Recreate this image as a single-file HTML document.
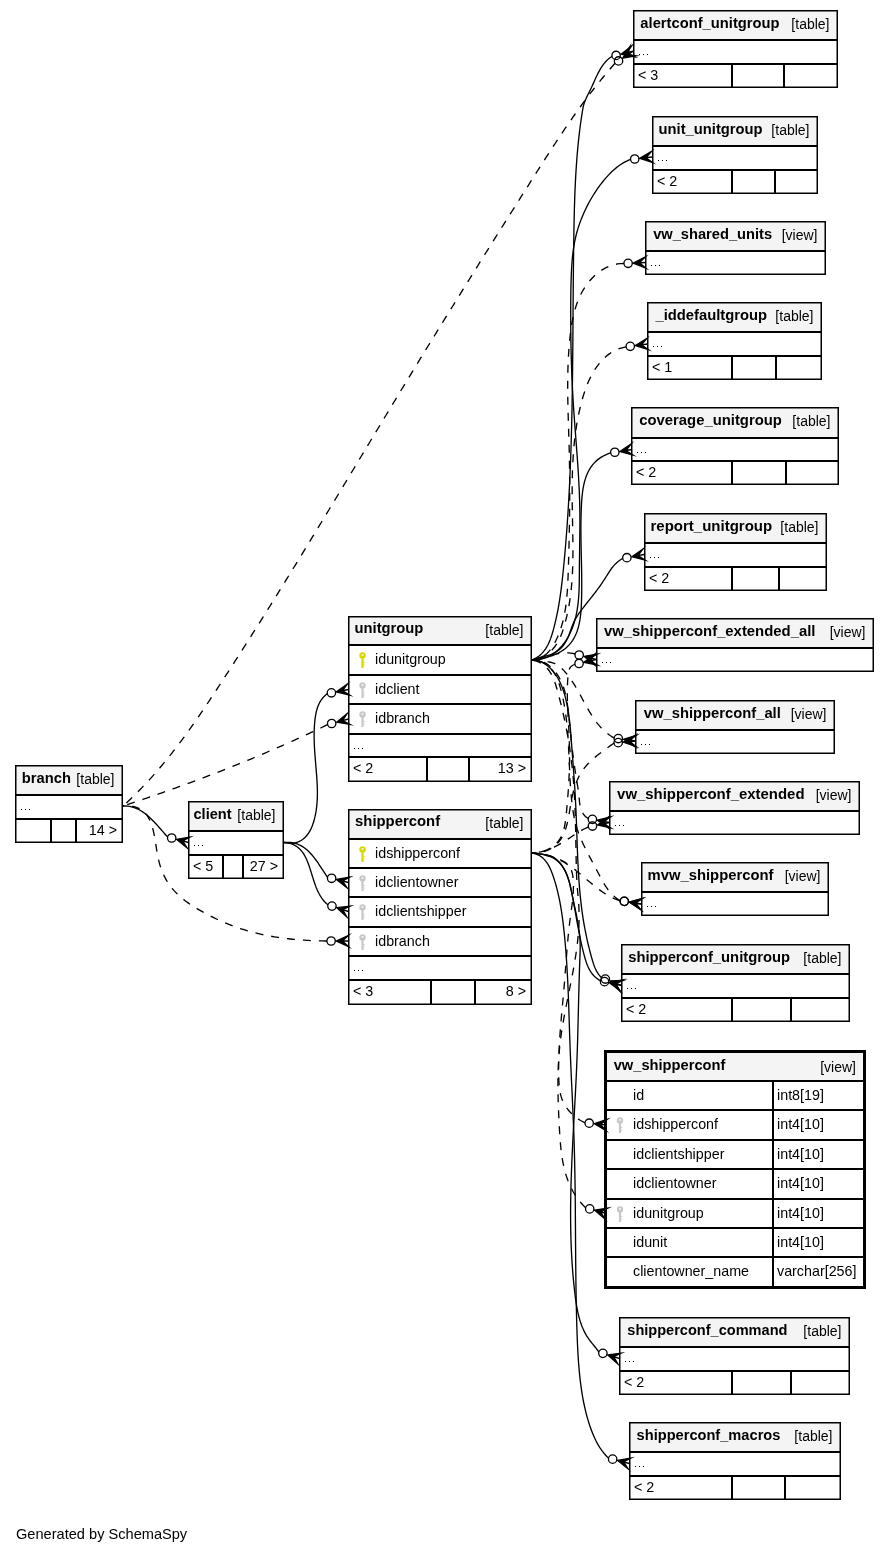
<!DOCTYPE html><html><head><meta charset="utf-8"><style>html,body{margin:0;padding:0;background:#fff;width:889px;height:1555px;overflow:hidden}svg{will-change:transform}text{font-family:"Liberation Sans",sans-serif}</style></head><body><svg width="889" height="1555" viewBox="0 0 889 1555" style="position:absolute;left:0;top:0" font-family='"Liberation Sans", sans-serif'>
<rect width="889" height="1555" fill="#fff"/>
<g fill="none" stroke="#000" stroke-width="1.33" stroke-linecap="butt">
<path d="M615.05,63.27 L613.72,64.77 L612.39,66.27 L611.08,67.79 L609.76,69.30 L608.46,70.83 L607.16,72.35 L605.87,73.89 L604.59,75.43 L603.31,76.97 L602.03,78.52 L600.77,80.07 L599.51,81.63 L598.25,83.19 L597.00,84.75 L595.76,86.32 L594.52,87.90 L593.29,89.48 L592.07,91.06 L590.84,92.65 L589.63,94.24 L588.42,95.84 L587.21,97.43 L586.01,99.04 L584.82,100.64 L583.63,102.26 L582.44,103.87 L581.26,105.49 L580.08,107.11 L578.91,108.73 L577.74,110.36 L576.58,111.99 L575.42,113.63 L574.26,115.26 L573.11,116.90 L571.96,118.55 L570.81,120.19 L569.67,121.84 L568.54,123.49 L567.40,125.15 L566.27,126.80 L565.14,128.46 L564.02,130.12 L562.90,131.79 L561.78,133.45 L560.66,135.12 L559.55,136.79 L558.44,138.46 L557.33,140.14 L556.23,141.81 L555.13,143.49 L554.03,145.17 L552.93,146.85 L551.83,148.53 L550.74,150.22 L549.64,151.90 L548.55,153.59 L547.47,155.28 L546.38,156.96 L545.29,158.65 L544.21,160.34 L543.13,162.04 L542.04,163.73 L540.96,165.42 L539.89,167.12 L538.81,168.81 L537.73,170.51 L536.65,172.20 L535.58,173.90 L534.50,175.59 L533.43,177.29 L532.35,178.99 L531.28,180.68 L530.20,182.38 L529.13,184.08 L528.05,185.78 L526.98,187.47 L525.91,189.17 L524.83,190.87 L523.76,192.56 L522.69,194.26 L521.62,195.96 L520.54,197.66 L519.47,199.35 L518.40,201.05 L517.33,202.75 L516.26,204.45 L515.19,206.14 L514.12,207.84 L513.04,209.54 L511.97,211.24 L510.90,212.93 L509.83,214.63 L508.77,216.33 L507.70,218.03 L506.63,219.73 L505.56,221.43 L504.49,223.12 L503.42,224.82 L502.35,226.52 L501.29,228.22 L500.22,229.92 L499.15,231.62 L498.08,233.32 L497.02,235.01 L495.95,236.71 L494.88,238.41 L493.82,240.11 L492.75,241.81 L491.69,243.51 L490.62,245.21 L489.56,246.91 L488.49,248.61 L487.43,250.31 L486.36,252.01 L485.30,253.71 L484.24,255.41 L483.17,257.11 L482.11,258.81 L481.05,260.51 L479.98,262.21 L478.92,263.91 L477.86,265.62 L476.80,267.32 L475.73,269.02 L474.67,270.72 L473.61,272.42 L472.55,274.12 L471.49,275.82 L470.43,277.53 L469.37,279.23 L468.31,280.93 L467.25,282.63 L466.19,284.34 L465.13,286.04 L464.08,287.74 L463.02,289.44 L461.96,291.15 L460.90,292.85 L459.84,294.55 L458.79,296.26 L457.73,297.96 L456.67,299.66 L455.62,301.37 L454.56,303.07 L453.51,304.78 L452.45,306.48 L451.39,308.19 L450.34,309.89 L449.29,311.60 L448.23,313.30 L447.18,315.01 L446.12,316.71 L445.07,318.42 L444.02,320.12 L442.96,321.83 L441.91,323.54 L440.86,325.24 L439.81,326.95 L438.76,328.66 L437.70,330.36 L436.65,332.07 L435.60,333.78 L434.55,335.49 L433.50,337.19 L432.45,338.90 L431.40,340.61 L430.35,342.32 L429.30,344.03 L428.25,345.73 L427.21,347.44 L426.16,349.15 L425.11,350.86 L424.06,352.57 L423.02,354.28 L421.97,355.99 L420.92,357.70 L419.88,359.41 L418.83,361.12 L417.78,362.83 L416.74,364.55 L415.69,366.26 L414.65,367.97 L413.60,369.68 L412.56,371.39 L411.52,373.10 L410.47,374.82 L409.43,376.53 L408.39,378.24 L407.35,379.96 L406.30,381.67 L405.26,383.38 L404.22,385.10 L403.18,386.81 L402.14,388.52 L401.10,390.24 L400.06,391.95 L399.02,393.67 L397.98,395.38 L396.94,397.10 L395.90,398.82 L394.86,400.53 L393.82,402.25 L392.78,403.96 L391.74,405.68 L390.71,407.40 L389.67,409.11 L388.63,410.83 L387.59,412.55 L386.56,414.26 L385.52,415.98 L384.48,417.70 L383.45,419.42 L382.41,421.13 L381.37,422.85 L380.34,424.57 L379.30,426.29 L378.26,428.01 L377.23,429.72 L376.19,431.44 L375.16,433.16 L374.12,434.88 L373.09,436.60 L372.05,438.32 L371.02,440.03 L369.98,441.75 L368.95,443.47 L367.91,445.19 L366.88,446.91 L365.84,448.63 L364.81,450.35 L363.77,452.07 L362.74,453.79 L361.70,455.50 L360.67,457.22 L359.63,458.94 L358.60,460.66 L357.56,462.38 L356.53,464.10 L355.49,465.82 L354.46,467.54 L353.42,469.26 L352.39,470.98 L351.35,472.69 L350.32,474.41 L349.28,476.13 L348.25,477.85 L347.21,479.57 L346.17,481.29 L345.14,483.01 L344.10,484.72 L343.07,486.44 L342.03,488.16 L341.00,489.88 L339.96,491.60 L338.92,493.32 L337.89,495.03 L336.85,496.75 L335.81,498.47 L334.77,500.19 L333.74,501.90 L332.70,503.62 L331.66,505.34 L330.62,507.05 L329.59,508.77 L328.55,510.49 L327.51,512.20 L326.47,513.92 L325.43,515.64 L324.39,517.35 L323.35,519.07 L322.31,520.78 L321.27,522.50 L320.23,524.21 L319.19,525.93 L318.15,527.64 L317.11,529.36 L316.07,531.07 L315.02,532.78 L313.98,534.50 L312.94,536.21 L311.90,537.93 L310.85,539.64 L309.81,541.35 L308.76,543.06 L307.72,544.78 L306.68,546.49 L305.63,548.20 L304.58,549.91 L303.54,551.62 L302.49,553.33 L301.45,555.04 L300.40,556.76 L299.35,558.47 L298.30,560.18 L297.25,561.89 L296.21,563.59 L295.16,565.30 L294.11,567.01 L293.06,568.72 L292.01,570.43 L290.95,572.14 L289.90,573.85 L288.85,575.55 L287.80,577.26 L286.75,578.97 L285.69,580.67 L284.64,582.38 L283.58,584.09 L282.53,585.79 L281.47,587.50 L280.42,589.20 L279.36,590.91 L278.30,592.61 L277.25,594.31 L276.19,596.02 L275.13,597.72 L274.07,599.42 L273.01,601.13 L271.95,602.83 L270.89,604.53 L269.83,606.23 L268.76,607.93 L267.70,609.63 L266.64,611.33 L265.57,613.03 L264.51,614.73 L263.44,616.43 L262.38,618.13 L261.31,619.83 L260.25,621.53 L259.18,623.23 L258.11,624.92 L257.04,626.62 L255.97,628.32 L254.90,630.01 L253.83,631.71 L252.76,633.40 L251.68,635.10 L250.61,636.79 L249.54,638.49 L248.46,640.18 L247.39,641.88 L246.31,643.57 L245.23,645.26 L244.16,646.95 L243.08,648.64 L242.00,650.34 L240.92,652.03 L239.84,653.72 L238.76,655.41 L237.68,657.10 L236.59,658.78 L235.51,660.47 L234.43,662.16 L233.34,663.85 L232.25,665.53 L231.17,667.22 L230.08,668.91 L228.99,670.59 L227.90,672.28 L226.81,673.96 L225.72,675.65 L224.63,677.33 L223.54,679.01 L222.44,680.70 L221.35,682.38 L220.25,684.06 L219.16,685.74 L218.06,687.42 L216.96,689.10 L215.86,690.78 L214.76,692.46 L213.66,694.13 L212.55,695.81 L211.45,697.48 L210.34,699.16 L209.23,700.83 L208.12,702.50 L207.00,704.17 L205.89,705.84 L204.77,707.50 L203.65,709.17 L202.52,710.83 L201.39,712.49 L200.26,714.14 L199.13,715.80 L197.99,717.45 L196.85,719.10 L195.71,720.75 L194.56,722.40 L193.41,724.04 L192.25,725.68 L191.10,727.32 L189.93,728.95 L188.76,730.58 L187.59,732.21 L186.42,733.83 L185.24,735.46 L184.05,737.07 L182.86,738.69 L181.67,740.30 L180.47,741.91 L179.26,743.51 L178.05,745.11 L176.84,746.70 L175.62,748.29 L174.39,749.88 L173.16,751.46 L171.92,753.04 L170.68,754.61 L169.43,756.18 L168.18,757.75 L166.92,759.31 L165.66,760.86 L164.38,762.41 L163.11,763.95 L161.82,765.49 L160.53,767.02 L159.24,768.55 L157.93,770.07 L156.62,771.59 L155.31,773.10 L153.98,774.60 L152.65,776.10 L151.32,777.59 L149.97,779.08 L148.62,780.56 L147.27,782.03 L145.90,783.50 L144.53,784.96 L143.15,786.41 L141.76,787.86 L140.37,789.30 L138.96,790.73 L137.55,792.16 L136.13,793.58 L134.71,794.99 L133.27,796.39 L131.83,797.79 L130.38,799.18 L128.92,800.56 L127.45,801.93 L125.98,803.29 L124.49,804.65 L123.00,806.00" stroke-dasharray="8,8"/>
<path d="M327.64,724.59 L325.82,725.47 L323.99,726.35 L322.17,727.23 L320.35,728.10 L318.52,728.97 L316.69,729.84 L314.87,730.71 L313.04,731.57 L311.21,732.43 L309.37,733.29 L307.54,734.14 L305.71,734.99 L303.87,735.84 L302.03,736.68 L300.19,737.53 L298.36,738.37 L296.52,739.21 L294.67,740.04 L292.83,740.87 L290.99,741.70 L289.14,742.53 L287.30,743.35 L285.45,744.17 L283.60,744.99 L281.75,745.81 L279.90,746.62 L278.05,747.43 L276.19,748.24 L274.34,749.05 L272.48,749.85 L270.63,750.65 L268.77,751.45 L266.91,752.25 L265.05,753.04 L263.19,753.83 L261.33,754.62 L259.47,755.40 L257.60,756.18 L255.74,756.97 L253.87,757.74 L252.00,758.52 L250.14,759.29 L248.27,760.06 L246.40,760.83 L244.53,761.60 L242.65,762.36 L240.78,763.12 L238.91,763.88 L237.03,764.63 L235.15,765.39 L233.28,766.14 L231.40,766.89 L229.52,767.63 L227.64,768.38 L225.76,769.12 L223.88,769.86 L222.00,770.60 L220.11,771.33 L218.23,772.06 L216.34,772.79 L214.46,773.52 L212.57,774.25 L210.68,774.97 L208.79,775.69 L206.90,776.41 L205.01,777.13 L203.12,777.84 L201.23,778.56 L199.34,779.27 L197.44,779.98 L195.55,780.68 L193.65,781.38 L191.75,782.09 L189.86,782.79 L187.96,783.48 L186.06,784.18 L184.16,784.87 L182.26,785.56 L180.36,786.25 L178.46,786.94 L176.55,787.62 L174.65,788.31 L172.75,788.99 L170.84,789.67 L168.94,790.34 L167.03,791.02 L165.12,791.69 L163.22,792.36 L161.31,793.03 L159.40,793.70 L157.49,794.36 L155.58,795.02 L153.67,795.68 L151.75,796.34 L149.84,797.00 L147.93,797.65 L146.01,798.31 L144.10,798.96 L142.18,799.61 L140.27,800.26 L138.35,800.90 L136.44,801.54 L134.52,802.19 L132.60,802.83 L130.68,803.47 L128.76,804.10 L126.84,804.74 L124.92,805.37 L123.00,806.00" stroke-dasharray="8,8"/>
<path d="M123.00,806.00 L125.24,805.99 L127.41,806.13 L129.51,806.41 L131.56,806.84 L133.54,807.39 L135.47,808.07 L137.34,808.87 L139.16,809.77 L140.93,810.77 L142.66,811.86 L144.34,813.04 L145.99,814.29 L147.59,815.61 L149.17,816.99 L150.70,818.43 L152.21,819.91 L153.70,821.42 L155.15,822.97 L156.59,824.54 L158.01,826.12 L159.41,827.70 L160.80,829.29 L162.18,830.86 L163.55,832.42 L164.91,833.95 L166.27,835.45 L167.64,836.91"/>
<path d="M326.90,941.00 L324.88,940.98 L322.85,940.94 L320.83,940.90 L318.80,940.85 L316.78,940.79 L314.75,940.72 L312.72,940.64 L310.70,940.55 L308.67,940.45 L306.64,940.33 L304.61,940.21 L302.59,940.08 L300.56,939.93 L298.53,939.77 L296.51,939.60 L294.49,939.41 L292.47,939.22 L290.44,939.01 L288.43,938.78 L286.41,938.55 L284.40,938.30 L282.38,938.03 L280.37,937.75 L278.37,937.46 L276.36,937.15 L274.36,936.83 L272.36,936.49 L270.37,936.13 L268.38,935.76 L266.39,935.38 L264.41,934.97 L262.43,934.55 L260.45,934.12 L258.48,933.66 L256.52,933.19 L254.56,932.70 L252.60,932.19 L250.65,931.67 L248.71,931.13 L246.77,930.56 L244.83,929.98 L242.91,929.38 L240.98,928.76 L239.07,928.12 L237.16,927.46 L235.25,926.79 L233.36,926.09 L231.46,925.38 L229.57,924.64 L227.69,923.89 L225.81,923.12 L223.94,922.33 L222.07,921.53 L220.21,920.70 L218.35,919.86 L216.50,918.99 L214.65,918.11 L212.81,917.22 L210.97,916.30 L209.13,915.37 L207.30,914.41 L205.48,913.44 L203.65,912.46 L201.84,911.45 L200.03,910.43 L198.23,909.38 L196.44,908.32 L194.67,907.23 L192.91,906.12 L191.18,904.99 L189.46,903.83 L187.78,902.64 L186.11,901.43 L184.48,900.19 L182.88,898.92 L181.31,897.62 L179.78,896.29 L178.29,894.93 L176.84,893.54 L175.44,892.11 L174.08,890.65 L172.77,889.15 L171.51,887.61 L170.31,886.04 L169.15,884.43 L168.05,882.78 L167.00,881.11 L166.00,879.39 L165.05,877.65 L164.15,875.87 L163.30,874.06 L162.50,872.22 L161.75,870.35 L161.05,868.46 L160.40,866.53 L159.80,864.58 L159.24,862.60 L158.73,860.60 L158.27,858.57 L157.85,856.53 L157.45,854.47 L157.08,852.39 L156.74,850.31 L156.41,848.23 L156.08,846.14 L155.76,844.05 L155.43,841.97 L155.10,839.90 L154.75,837.84 L154.38,835.80 L153.97,833.77 L153.54,831.77 L153.07,829.80 L152.55,827.86 L151.98,825.95 L151.35,824.09 L150.66,822.27 L149.89,820.51 L149.05,818.82 L148.13,817.20 L147.12,815.65 L146.01,814.20 L144.80,812.83 L143.48,811.56 L142.05,810.41 L140.50,809.36 L138.82,808.44 L137.01,807.65 L135.06,806.99 L132.96,806.48 L130.72,806.11 L128.31,805.91 L125.74,805.87 L123.00,806.00" stroke-dasharray="8,8"/>
<path d="M284.00,842.50 L286.59,842.96 L289.05,843.20 L291.36,843.23 L293.55,843.05 L295.61,842.68 L297.54,842.13 L299.35,841.40 L301.05,840.52 L302.64,839.48 L304.12,838.30 L305.49,836.99 L306.77,835.56 L307.95,834.03 L309.04,832.39 L310.04,830.66 L310.95,828.86 L311.79,826.99 L312.56,825.06 L313.25,823.08 L313.87,821.06 L314.43,819.02 L314.94,816.96 L315.38,814.90 L315.78,812.84 L316.13,810.77 L316.43,808.71 L316.68,806.65 L316.89,804.58 L317.06,802.52 L317.20,800.46 L317.29,798.39 L317.36,796.33 L317.39,794.27 L317.39,792.20 L317.37,790.14 L317.32,788.08 L317.25,786.02 L317.16,783.96 L317.05,781.89 L316.93,779.83 L316.79,777.77 L316.64,775.71 L316.49,773.65 L316.33,771.59 L316.16,769.53 L315.99,767.48 L315.82,765.42 L315.64,763.36 L315.47,761.30 L315.30,759.25 L315.14,757.19 L314.98,755.14 L314.83,753.08 L314.70,751.03 L314.57,748.98 L314.45,746.93 L314.35,744.88 L314.27,742.83 L314.20,740.78 L314.16,738.74 L314.13,736.69 L314.13,734.65 L314.15,732.61 L314.20,730.56 L314.28,728.52 L314.39,726.49 L314.52,724.45 L314.69,722.41 L314.90,720.38 L315.14,718.35 L315.43,716.33 L315.77,714.32 L316.18,712.34 L316.66,710.38 L317.21,708.46 L317.86,706.57 L318.61,704.73 L319.46,702.94 L320.43,701.21 L321.52,699.54 L322.74,697.94 L324.11,696.42 L325.62,694.98 L327.30,693.62"/>
<path d="M284.00,842.50 L286.42,842.33 L288.74,842.34 L290.97,842.52 L293.11,842.86 L295.16,843.35 L297.13,843.99 L299.02,844.76 L300.83,845.65 L302.58,846.67 L304.25,847.79 L305.87,849.02 L307.42,850.34 L308.92,851.74 L310.37,853.23 L311.77,854.77 L313.13,856.38 L314.45,858.04 L315.74,859.75 L316.99,861.48 L318.22,863.24 L319.42,865.03 L320.61,866.81 L321.78,868.60 L322.94,870.39 L324.09,872.15 L325.24,873.90 L326.39,875.61 L327.54,877.27"/>
<path d="M284.00,842.50 L286.46,842.73 L288.75,843.13 L290.89,843.70 L292.87,844.42 L294.71,845.30 L296.41,846.31 L297.99,847.46 L299.45,848.74 L300.80,850.13 L302.04,851.63 L303.20,853.22 L304.26,854.91 L305.25,856.69 L306.17,858.54 L307.03,860.45 L307.84,862.42 L308.60,864.45 L309.32,866.51 L310.02,868.61 L310.69,870.73 L311.35,872.87 L312.01,875.02 L312.68,877.17 L313.35,879.31 L314.04,881.44 L314.76,883.54 L315.52,885.62 L316.31,887.66 L317.15,889.66 L318.04,891.62 L319.00,893.52 L320.02,895.37 L321.12,897.15 L322.29,898.85 L323.56,900.48 L324.92,902.02 L326.38,903.47 L327.96,904.83"/>
<path d="M532.00,660.00 L533.96,659.16 L535.79,658.20 L537.50,657.14 L539.09,655.97 L540.58,654.71 L541.97,653.36 L543.26,651.92 L544.45,650.41 L545.57,648.82 L546.60,647.17 L547.56,645.46 L548.44,643.69 L549.27,641.88 L550.04,640.02 L550.75,638.13 L551.42,636.21 L552.05,634.27 L552.64,632.30 L553.20,630.33 L553.74,628.35 L554.26,626.37 L554.76,624.39 L555.25,622.41 L555.71,620.42 L556.16,618.44 L556.59,616.46 L557.00,614.47 L557.40,612.49 L557.79,610.50 L558.16,608.52 L558.52,606.53 L558.86,604.55 L559.19,602.56 L559.51,600.57 L559.82,598.58 L560.12,596.60 L560.40,594.61 L560.68,592.62 L560.95,590.63 L561.21,588.64 L561.46,586.65 L561.70,584.66 L561.94,582.67 L562.17,580.67 L562.39,578.68 L562.61,576.69 L562.82,574.70 L563.03,572.71 L563.23,570.71 L563.44,568.72 L563.63,566.73 L563.83,564.73 L564.02,562.74 L564.21,560.75 L564.40,558.75 L564.58,556.76 L564.77,554.76 L564.94,552.77 L565.12,550.77 L565.29,548.78 L565.46,546.78 L565.63,544.78 L565.80,542.79 L565.96,540.79 L566.12,538.80 L566.28,536.80 L566.43,534.80 L566.58,532.81 L566.73,530.81 L566.88,528.81 L567.03,526.81 L567.17,524.82 L567.31,522.82 L567.44,520.82 L567.58,518.82 L567.71,516.82 L567.84,514.82 L567.97,512.82 L568.10,510.83 L568.22,508.83 L568.34,506.83 L568.46,504.83 L568.58,502.83 L568.69,500.83 L568.80,498.83 L568.91,496.83 L569.02,494.83 L569.13,492.83 L569.23,490.82 L569.33,488.82 L569.43,486.82 L569.53,484.82 L569.63,482.82 L569.72,480.82 L569.81,478.82 L569.90,476.81 L569.99,474.81 L570.08,472.81 L570.16,470.81 L570.25,468.80 L570.33,466.80 L570.41,464.80 L570.48,462.79 L570.56,460.79 L570.63,458.79 L570.71,456.78 L570.78,454.78 L570.85,452.78 L570.91,450.77 L570.98,448.77 L571.04,446.77 L571.11,444.76 L571.17,442.76 L571.23,440.75 L571.29,438.75 L571.34,436.74 L571.40,434.74 L571.45,432.73 L571.51,430.73 L571.56,428.72 L571.61,426.72 L571.66,424.71 L571.71,422.71 L571.75,420.70 L571.80,418.70 L571.84,416.69 L571.88,414.68 L571.93,412.68 L571.97,410.67 L572.01,408.67 L572.04,406.66 L572.08,404.65 L572.12,402.65 L572.15,400.64 L572.19,398.63 L572.22,396.63 L572.25,394.62 L572.28,392.61 L572.32,390.61 L572.35,388.60 L572.37,386.59 L572.40,384.59 L572.43,382.58 L572.46,380.57 L572.48,378.56 L572.51,376.56 L572.53,374.55 L572.55,372.54 L572.58,370.53 L572.60,368.53 L572.62,366.52 L572.64,364.51 L572.66,362.50 L572.68,360.50 L572.70,358.49 L572.72,356.48 L572.74,354.47 L572.76,352.46 L572.78,350.46 L572.79,348.45 L572.81,346.44 L572.83,344.43 L572.84,342.42 L572.86,340.42 L572.87,338.41 L572.89,336.40 L572.90,334.39 L572.92,332.38 L572.93,330.38 L572.95,328.37 L572.96,326.36 L572.98,324.35 L572.99,322.34 L573.00,320.33 L573.02,318.33 L573.03,316.32 L573.05,314.31 L573.06,312.30 L573.07,310.29 L573.09,308.28 L573.10,306.28 L573.12,304.27 L573.13,302.26 L573.14,300.25 L573.16,298.24 L573.17,296.23 L573.19,294.23 L573.20,292.22 L573.22,290.21 L573.24,288.20 L573.25,286.19 L573.27,284.18 L573.29,282.18 L573.30,280.17 L573.32,278.16 L573.34,276.15 L573.36,274.14 L573.38,272.14 L573.40,270.13 L573.42,268.12 L573.44,266.11 L573.46,264.10 L573.48,262.10 L573.50,260.09 L573.52,258.08 L573.55,256.07 L573.57,254.07 L573.60,252.06 L573.62,250.05 L573.65,248.04 L573.68,246.04 L573.71,244.03 L573.74,242.02 L573.77,240.01 L573.80,238.01 L573.83,236.00 L573.86,233.99 L573.89,231.99 L573.93,229.98 L573.97,227.97 L574.00,225.96 L574.04,223.96 L574.08,221.95 L574.12,219.95 L574.17,217.94 L574.21,215.93 L574.26,213.93 L574.31,211.92 L574.36,209.92 L574.42,207.91 L574.48,205.91 L574.54,203.90 L574.60,201.90 L574.67,199.89 L574.73,197.89 L574.81,195.88 L574.88,193.88 L574.96,191.88 L575.04,189.87 L575.13,187.87 L575.22,185.87 L575.31,183.87 L575.41,181.86 L575.51,179.86 L575.62,177.86 L575.73,175.86 L575.84,173.86 L575.96,171.86 L576.08,169.86 L576.21,167.86 L576.35,165.86 L576.49,163.86 L576.63,161.87 L576.78,159.87 L576.93,157.87 L577.09,155.87 L577.26,153.88 L577.43,151.88 L577.61,149.89 L577.80,147.89 L577.99,145.90 L578.18,143.90 L578.38,141.91 L578.59,139.92 L578.81,137.92 L579.03,135.93 L579.26,133.94 L579.50,131.95 L579.74,129.96 L580.00,127.97 L580.25,125.98 L580.52,123.99 L580.79,122.01 L581.08,120.02 L581.37,118.03 L581.66,116.05 L581.97,114.06 L582.28,112.08 L582.61,110.10 L582.96,108.12 L583.38,106.17 L583.88,104.24 L584.50,102.35 L585.21,100.49 L586.00,98.66 L586.84,96.84 L587.73,95.03 L588.64,93.23 L589.55,91.42 L590.44,89.61 L591.31,87.78 L592.15,85.94 L592.99,84.10 L593.82,82.26 L594.65,80.42 L595.48,78.58 L596.33,76.76 L597.21,74.95 L598.10,73.16 L599.04,71.39 L600.01,69.65 L601.03,67.93 L602.10,66.25 L603.24,64.62 L604.46,63.05 L605.76,61.55 L607.16,60.12 L608.66,58.79 L610.28,57.56 L612.03,56.44"/>
<path d="M532.00,660.00 L534.15,660.00 L536.26,659.88 L538.33,659.63 L540.35,659.26 L542.32,658.79 L544.25,658.20 L546.12,657.51 L547.95,656.71 L549.72,655.83 L551.44,654.85 L553.11,653.78 L554.72,652.63 L556.28,651.41 L557.78,650.11 L559.22,648.75 L560.60,647.31 L561.93,645.82 L563.20,644.28 L564.41,642.68 L565.57,641.04 L566.66,639.36 L567.71,637.63 L568.69,635.88 L569.62,634.10 L570.49,632.29 L571.31,630.45 L572.08,628.59 L572.80,626.71 L573.47,624.80 L574.09,622.88 L574.67,620.94 L575.20,618.99 L575.70,617.02 L576.15,615.04 L576.56,613.05 L576.94,611.05 L577.28,609.05 L577.59,607.03 L577.86,605.02 L578.11,603.00 L578.32,600.98 L578.51,598.96 L578.67,596.95 L578.81,594.93 L578.93,592.92 L579.03,590.91 L579.11,588.91 L579.17,586.90 L579.23,584.90 L579.27,582.89 L579.30,580.89 L579.32,578.89 L579.33,576.88 L579.35,574.88 L579.36,572.88 L579.37,570.88 L579.38,568.87 L579.40,566.87 L579.42,564.86 L579.44,562.86 L579.47,560.85 L579.49,558.85 L579.52,556.84 L579.55,554.83 L579.58,552.82 L579.61,550.81 L579.64,548.80 L579.67,546.79 L579.69,544.79 L579.72,542.77 L579.75,540.76 L579.78,538.75 L579.80,536.74 L579.82,534.73 L579.84,532.72 L579.86,530.71 L579.88,528.70 L579.89,526.69 L579.90,524.67 L579.90,522.66 L579.90,520.65 L579.90,518.64 L579.89,516.63 L579.87,514.62 L579.85,512.60 L579.83,510.59 L579.80,508.58 L579.76,506.57 L579.71,504.56 L579.66,502.55 L579.61,500.54 L579.54,498.53 L579.48,496.52 L579.40,494.51 L579.32,492.50 L579.24,490.49 L579.15,488.49 L579.05,486.48 L578.95,484.47 L578.85,482.46 L578.74,480.45 L578.63,478.44 L578.52,476.44 L578.40,474.43 L578.27,472.42 L578.15,470.41 L578.02,468.41 L577.88,466.40 L577.75,464.39 L577.61,462.39 L577.47,460.38 L577.33,458.37 L577.19,456.37 L577.04,454.36 L576.89,452.35 L576.74,450.35 L576.59,448.34 L576.44,446.34 L576.29,444.33 L576.14,442.32 L575.98,440.32 L575.83,438.31 L575.67,436.30 L575.52,434.30 L575.37,432.29 L575.21,430.29 L575.06,428.28 L574.91,426.27 L574.76,424.27 L574.61,422.26 L574.46,420.25 L574.32,418.25 L574.17,416.24 L574.03,414.24 L573.89,412.23 L573.75,410.22 L573.62,408.21 L573.48,406.21 L573.36,404.20 L573.23,402.19 L573.11,400.19 L572.99,398.18 L572.87,396.17 L572.76,394.16 L572.65,392.16 L572.54,390.15 L572.44,388.14 L572.34,386.13 L572.24,384.12 L572.15,382.11 L572.06,380.11 L571.97,378.10 L571.89,376.09 L571.81,374.08 L571.73,372.07 L571.66,370.06 L571.59,368.05 L571.52,366.04 L571.46,364.03 L571.39,362.02 L571.34,360.01 L571.28,358.00 L571.23,355.99 L571.18,353.98 L571.13,351.98 L571.08,349.97 L571.04,347.96 L571.00,345.95 L570.96,343.94 L570.93,341.93 L570.90,339.92 L570.87,337.91 L570.84,335.90 L570.82,333.88 L570.80,331.87 L570.78,329.86 L570.76,327.85 L570.75,325.84 L570.74,323.83 L570.73,321.82 L570.72,319.81 L570.71,317.80 L570.71,315.79 L570.71,313.78 L570.71,311.77 L570.71,309.76 L570.72,307.75 L570.73,305.74 L570.74,303.73 L570.75,301.72 L570.77,299.71 L570.79,297.70 L570.81,295.69 L570.83,293.68 L570.86,291.66 L570.90,289.65 L570.94,287.64 L570.98,285.62 L571.03,283.61 L571.09,281.59 L571.15,279.57 L571.21,277.55 L571.29,275.53 L571.37,273.51 L571.46,271.49 L571.56,269.47 L571.67,267.45 L571.80,265.44 L571.94,263.42 L572.09,261.40 L572.26,259.39 L572.45,257.38 L572.66,255.38 L572.88,253.38 L573.13,251.38 L573.40,249.39 L573.69,247.40 L574.01,245.42 L574.35,243.45 L574.73,241.48 L575.12,239.52 L575.55,237.57 L576.01,235.62 L576.50,233.68 L577.02,231.76 L577.58,229.84 L578.16,227.93 L578.78,226.02 L579.42,224.13 L580.10,222.24 L580.80,220.36 L581.53,218.49 L582.29,216.63 L583.07,214.78 L583.88,212.93 L584.72,211.09 L585.58,209.26 L586.47,207.44 L587.38,205.63 L588.32,203.83 L589.28,202.04 L590.27,200.26 L591.28,198.49 L592.31,196.74 L593.37,195.00 L594.46,193.28 L595.57,191.58 L596.70,189.89 L597.86,188.21 L599.04,186.56 L600.24,184.93 L601.47,183.32 L602.72,181.72 L604.00,180.16 L605.30,178.61 L606.63,177.09 L607.98,175.59 L609.35,174.13 L610.76,172.70 L612.20,171.31 L613.67,169.96 L615.17,168.65 L616.71,167.39 L618.29,166.19 L619.91,165.04 L621.57,163.94 L623.27,162.91 L625.01,161.95 L626.81,161.05 L628.65,160.23 L630.54,159.48"/>
<path d="M623.92,263.52 L621.79,263.55 L619.69,263.70 L617.63,263.96 L615.60,264.34 L613.62,264.81 L611.67,265.39 L609.75,266.06 L607.88,266.83 L606.05,267.68 L604.27,268.62 L602.52,269.64 L600.82,270.74 L599.16,271.91 L597.56,273.14 L595.99,274.44 L594.48,275.80 L593.01,277.21 L591.59,278.68 L590.23,280.19 L588.91,281.75 L587.65,283.35 L586.44,284.98 L585.28,286.64 L584.18,288.33 L583.13,290.05 L582.14,291.79 L581.20,293.55 L580.31,295.33 L579.47,297.14 L578.67,298.96 L577.92,300.80 L577.21,302.66 L576.54,304.54 L575.92,306.43 L575.33,308.34 L574.77,310.26 L574.26,312.19 L573.77,314.14 L573.32,316.10 L572.89,318.07 L572.50,320.04 L572.13,322.03 L571.79,324.02 L571.46,326.02 L571.16,328.03 L570.88,330.04 L570.62,332.05 L570.37,334.07 L570.14,336.09 L569.92,338.11 L569.72,340.12 L569.52,342.14 L569.34,344.16 L569.17,346.18 L569.01,348.20 L568.86,350.22 L568.72,352.24 L568.59,354.27 L568.47,356.29 L568.36,358.31 L568.26,360.33 L568.17,362.35 L568.09,364.37 L568.02,366.39 L567.95,368.41 L567.89,370.44 L567.85,372.46 L567.80,374.48 L567.77,376.50 L567.74,378.52 L567.72,380.54 L567.71,382.56 L567.70,384.58 L567.70,386.60 L567.70,388.62 L567.71,390.65 L567.73,392.67 L567.75,394.69 L567.77,396.70 L567.80,398.72 L567.84,400.74 L567.87,402.76 L567.91,404.78 L567.96,406.80 L568.00,408.82 L568.05,410.83 L568.11,412.85 L568.16,414.87 L568.22,416.88 L568.28,418.90 L568.34,420.91 L568.40,422.93 L568.46,424.94 L568.52,426.95 L568.58,428.97 L568.65,430.98 L568.71,432.99 L568.77,435.00 L568.83,437.01 L568.90,439.02 L568.96,441.03 L569.01,443.04 L569.07,445.04 L569.13,447.05 L569.18,449.06 L569.23,451.06 L569.28,453.07 L569.32,455.07 L569.36,457.07 L569.40,459.07 L569.44,461.07 L569.47,463.07 L569.51,465.08 L569.54,467.07 L569.56,469.07 L569.59,471.07 L569.61,473.07 L569.63,475.07 L569.65,477.07 L569.66,479.07 L569.68,481.07 L569.69,483.06 L569.70,485.06 L569.70,487.06 L569.71,489.06 L569.71,491.06 L569.71,493.06 L569.70,495.05 L569.70,497.05 L569.69,499.05 L569.68,501.05 L569.67,503.06 L569.66,505.06 L569.65,507.06 L569.63,509.06 L569.61,511.07 L569.59,513.07 L569.57,515.07 L569.54,517.08 L569.51,519.09 L569.49,521.10 L569.45,523.10 L569.42,525.11 L569.39,527.13 L569.35,529.14 L569.32,531.15 L569.28,533.17 L569.24,535.18 L569.19,537.20 L569.15,539.22 L569.10,541.24 L569.06,543.26 L569.01,545.29 L568.96,547.31 L568.90,549.34 L568.85,551.37 L568.80,553.40 L568.74,555.43 L568.68,557.46 L568.62,559.50 L568.56,561.54 L568.50,563.58 L568.43,565.62 L568.37,567.67 L568.30,569.72 L568.24,571.77 L568.17,573.82 L568.09,575.87 L568.01,577.92 L567.93,579.98 L567.84,582.03 L567.74,584.08 L567.63,586.13 L567.51,588.18 L567.38,590.23 L567.23,592.27 L567.07,594.31 L566.89,596.35 L566.70,598.38 L566.49,600.41 L566.26,602.43 L566.01,604.45 L565.74,606.45 L565.45,608.46 L565.13,610.45 L564.78,612.43 L564.41,614.41 L564.02,616.38 L563.59,618.33 L563.13,620.28 L562.64,622.22 L562.12,624.14 L561.57,626.05 L560.98,627.95 L560.35,629.84 L559.69,631.71 L558.99,633.57 L558.25,635.42 L557.47,637.25 L556.64,639.06 L555.78,640.86 L554.86,642.63 L553.90,644.38 L552.87,646.08 L551.79,647.73 L550.64,649.33 L549.41,650.85 L548.11,652.29 L546.72,653.64 L545.25,654.89 L543.68,656.03 L542.01,657.05 L540.24,657.94 L538.36,658.69 L536.36,659.29 L534.24,659.73 L532.00,660.00" stroke-dasharray="8,8"/>
<path d="M626.09,346.89 L624.02,347.28 L622.00,347.78 L620.03,348.37 L618.12,349.07 L616.26,349.86 L614.45,350.74 L612.69,351.71 L610.98,352.76 L609.32,353.89 L607.72,355.10 L606.16,356.37 L604.66,357.71 L603.20,359.12 L601.79,360.58 L600.43,362.10 L599.12,363.67 L597.86,365.29 L596.65,366.95 L595.48,368.65 L594.36,370.38 L593.28,372.14 L592.26,373.93 L591.27,375.75 L590.34,377.58 L589.44,379.42 L588.60,381.28 L587.79,383.16 L587.02,385.04 L586.28,386.93 L585.58,388.84 L584.92,390.75 L584.28,392.67 L583.67,394.60 L583.08,396.53 L582.52,398.47 L581.98,400.42 L581.46,402.37 L580.95,404.32 L580.46,406.27 L580.00,408.23 L579.54,410.18 L579.11,412.15 L578.69,414.11 L578.29,416.08 L577.90,418.05 L577.53,420.02 L577.17,422.00 L576.83,423.98 L576.51,425.96 L576.20,427.94 L575.90,429.93 L575.62,431.92 L575.35,433.91 L575.09,435.90 L574.85,437.90 L574.62,439.90 L574.40,441.89 L574.20,443.90 L574.00,445.90 L573.82,447.90 L573.65,449.91 L573.49,451.92 L573.34,453.93 L573.20,455.94 L573.08,457.95 L572.96,459.97 L572.85,461.98 L572.75,464.00 L572.66,466.02 L572.57,468.04 L572.50,470.06 L572.44,472.09 L572.38,474.11 L572.33,476.13 L572.28,478.16 L572.25,480.18 L572.22,482.21 L572.19,484.24 L572.18,486.27 L572.17,488.30 L572.16,490.33 L572.16,492.36 L572.16,494.39 L572.17,496.42 L572.18,498.45 L572.20,500.48 L572.22,502.51 L572.24,504.55 L572.27,506.58 L572.30,508.61 L572.33,510.64 L572.37,512.67 L572.40,514.71 L572.44,516.74 L572.48,518.77 L572.52,520.80 L572.56,522.83 L572.60,524.86 L572.64,526.89 L572.68,528.92 L572.72,530.95 L572.76,532.98 L572.79,535.01 L572.83,537.03 L572.86,539.06 L572.88,541.09 L572.90,543.11 L572.92,545.13 L572.93,547.16 L572.94,549.18 L572.94,551.20 L572.94,553.22 L572.92,555.24 L572.90,557.26 L572.88,559.28 L572.84,561.30 L572.80,563.32 L572.74,565.33 L572.68,567.34 L572.60,569.36 L572.52,571.37 L572.42,573.38 L572.32,575.39 L572.20,577.40 L572.06,579.40 L571.92,581.41 L571.76,583.41 L571.59,585.42 L571.40,587.42 L571.20,589.42 L570.98,591.42 L570.75,593.41 L570.50,595.41 L570.23,597.40 L569.95,599.39 L569.64,601.38 L569.32,603.37 L568.99,605.36 L568.63,607.34 L568.25,609.33 L567.85,611.31 L567.43,613.29 L566.99,615.27 L566.53,617.24 L566.05,619.22 L565.54,621.19 L565.01,623.16 L564.46,625.13 L563.88,627.09 L563.28,629.05 L562.64,630.99 L561.96,632.92 L561.23,634.82 L560.46,636.69 L559.63,638.53 L558.75,640.33 L557.80,642.08 L556.78,643.78 L555.69,645.43 L554.53,647.01 L553.27,648.53 L551.94,649.98 L550.51,651.35 L548.98,652.64 L547.35,653.84 L545.61,654.95 L543.76,655.97 L541.83,656.88 L539.85,657.70 L537.84,658.42 L535.84,659.04 L533.89,659.57 L532.00,660.00" stroke-dasharray="8,8"/>
<path d="M532.00,660.00 L533.83,659.74 L535.71,659.46 L537.63,659.16 L539.59,658.82 L541.57,658.45 L543.58,658.03 L545.60,657.56 L547.63,657.04 L549.65,656.45 L551.66,655.80 L553.66,655.07 L555.63,654.26 L557.57,653.36 L559.46,652.37 L561.29,651.30 L563.05,650.16 L564.72,648.94 L566.29,647.65 L567.75,646.30 L569.12,644.88 L570.39,643.41 L571.57,641.88 L572.66,640.29 L573.66,638.65 L574.59,636.97 L575.44,635.24 L576.22,633.46 L576.92,631.65 L577.56,629.79 L578.14,627.91 L578.65,625.99 L579.11,624.04 L579.52,622.07 L579.88,620.07 L580.19,618.05 L580.47,616.01 L580.70,613.96 L580.90,611.90 L581.06,609.83 L581.20,607.74 L581.32,605.66 L581.41,603.57 L581.49,601.49 L581.55,599.41 L581.61,597.33 L581.65,595.27 L581.69,593.21 L581.71,591.15 L581.73,589.10 L581.74,587.06 L581.75,585.03 L581.74,582.99 L581.74,580.97 L581.72,578.94 L581.70,576.93 L581.68,574.91 L581.65,572.90 L581.62,570.89 L581.58,568.89 L581.55,566.88 L581.50,564.88 L581.46,562.88 L581.42,560.89 L581.37,558.89 L581.33,556.90 L581.28,554.90 L581.24,552.91 L581.20,550.91 L581.15,548.92 L581.11,546.92 L581.07,544.92 L581.04,542.92 L581.01,540.92 L580.98,538.92 L580.95,536.92 L580.93,534.91 L580.92,532.90 L580.91,530.88 L580.90,528.87 L580.91,526.84 L580.92,524.82 L580.93,522.79 L580.96,520.75 L580.99,518.71 L581.03,516.66 L581.09,514.61 L581.15,512.55 L581.22,510.49 L581.30,508.41 L581.39,506.33 L581.50,504.25 L581.62,502.16 L581.76,500.07 L581.93,497.98 L582.12,495.90 L582.34,493.83 L582.60,491.77 L582.90,489.72 L583.23,487.69 L583.62,485.68 L584.05,483.70 L584.53,481.74 L585.07,479.82 L585.67,477.92 L586.33,476.07 L587.05,474.25 L587.85,472.47 L588.72,470.74 L589.67,469.06 L590.70,467.42 L591.81,465.84 L593.02,464.32 L594.31,462.86 L595.70,461.46 L597.19,460.13 L598.78,458.87 L600.47,457.68 L602.28,456.56 L604.20,455.53 L606.24,454.57 L608.39,453.70 L610.67,452.92"/>
<path d="M532.00,660.00 L533.83,659.35 L535.73,658.75 L537.69,658.20 L539.70,657.66 L541.74,657.13 L543.79,656.60 L545.84,656.03 L547.87,655.43 L549.87,654.76 L551.83,654.02 L553.72,653.19 L555.53,652.25 L557.25,651.19 L558.86,649.99 L560.37,648.68 L561.78,647.26 L563.09,645.73 L564.30,644.11 L565.41,642.41 L566.42,640.64 L567.34,638.80 L568.18,636.92 L568.95,634.99 L569.68,633.03 L570.39,631.06 L571.09,629.09 L571.79,627.12 L572.53,625.17 L573.31,623.26 L574.16,621.39 L575.09,619.57 L576.09,617.80 L577.16,616.07 L578.28,614.38 L579.45,612.72 L580.65,611.08 L581.87,609.46 L583.11,607.84 L584.36,606.22 L585.62,604.62 L586.89,603.01 L588.16,601.41 L589.44,599.80 L590.71,598.20 L591.98,596.59 L593.25,594.97 L594.51,593.35 L595.76,591.73 L597.00,590.09 L598.23,588.45 L599.43,586.79 L600.62,585.12 L601.79,583.43 L602.94,581.73 L604.06,580.00 L605.16,578.27 L606.24,576.52 L607.33,574.78 L608.42,573.04 L609.54,571.33 L610.70,569.65 L611.90,568.01 L613.17,566.42 L614.51,564.88 L615.94,563.42 L617.47,562.03 L619.10,560.73 L620.86,559.53 L622.76,558.44"/>
<path d="M575.12,653.98 L572.89,653.46 L570.68,653.11 L568.49,652.90 L566.30,652.84 L564.13,652.91 L561.96,653.08 L559.80,653.36 L557.65,653.72 L555.51,654.16 L553.37,654.66 L551.23,655.20 L549.10,655.78 L546.97,656.38 L544.84,656.98 L542.71,657.58 L540.57,658.16 L538.44,658.70 L536.30,659.20 L534.15,659.64 L532.00,660.00" stroke-dasharray="8,8"/>
<path d="M614.11,737.99 L612.25,736.89 L610.46,735.73 L608.75,734.51 L607.09,733.24 L605.51,731.92 L603.98,730.55 L602.51,729.14 L601.09,727.68 L599.72,726.17 L598.40,724.63 L597.12,723.06 L595.89,721.45 L594.69,719.80 L593.53,718.13 L592.39,716.43 L591.29,714.71 L590.21,712.96 L589.16,711.19 L588.12,709.41 L587.10,707.61 L586.09,705.80 L585.09,703.98 L584.10,702.15 L583.11,700.31 L582.12,698.47 L581.13,696.63 L580.13,694.79 L579.12,692.96 L578.10,691.13 L577.07,689.31 L576.01,687.51 L574.94,685.71 L573.84,683.93 L572.71,682.18 L571.55,680.44 L570.37,678.73 L569.15,677.04 L567.90,675.39 L566.62,673.78 L565.30,672.20 L563.95,670.66 L562.55,669.17 L561.10,667.76 L559.58,666.46 L557.97,665.30 L556.26,664.31 L554.46,663.48 L552.57,662.79 L550.62,662.23 L548.60,661.78 L546.55,661.42 L544.46,661.14 L542.36,660.91 L540.24,660.72 L538.14,660.55 L536.06,660.39 L534.01,660.21 L532.00,660.00" stroke-dasharray="8,8"/>
<path d="M588.26,818.56 L586.34,817.19 L584.73,815.71 L583.40,814.13 L582.33,812.46 L581.48,810.71 L580.82,808.90 L580.32,807.02 L579.94,805.09 L579.66,803.12 L579.44,801.12 L579.25,799.10 L579.06,797.07 L578.84,795.03 L578.59,792.99 L578.32,790.94 L578.04,788.90 L577.73,786.85 L577.41,784.81 L577.09,782.76 L576.75,780.72 L576.42,778.68 L576.09,776.64 L575.76,774.61 L575.45,772.58 L575.14,770.56 L574.84,768.54 L574.54,766.52 L574.25,764.51 L573.98,762.50 L573.70,760.49 L573.44,758.48 L573.17,756.48 L572.92,754.47 L572.67,752.47 L572.42,750.46 L572.18,748.46 L571.95,746.45 L571.72,744.44 L571.49,742.43 L571.27,740.42 L571.05,738.41 L570.83,736.39 L570.62,734.37 L570.41,732.34 L570.20,730.31 L569.99,728.27 L569.78,726.23 L569.58,724.18 L569.37,722.13 L569.17,720.07 L568.97,718.00 L568.76,715.92 L568.55,713.85 L568.33,711.77 L568.09,709.69 L567.83,707.62 L567.56,705.55 L567.26,703.49 L566.94,701.44 L566.58,699.40 L566.19,697.37 L565.76,695.36 L565.29,693.37 L564.77,691.39 L564.21,689.44 L563.59,687.51 L562.92,685.61 L562.19,683.73 L561.39,681.89 L560.53,680.08 L559.61,678.30 L558.61,676.55 L557.53,674.85 L556.37,673.19 L555.13,671.56 L553.81,669.99 L552.40,668.49 L550.91,667.06 L549.35,665.72 L547.70,664.48 L545.99,663.37 L544.19,662.38 L542.33,661.54 L540.40,660.86 L538.40,660.35 L536.33,660.03 L534.20,659.91 L532.00,660.00" stroke-dasharray="8,8"/>
<path d="M620.15,900.70 L618.32,899.53 L616.58,898.29 L614.95,896.98 L613.41,895.62 L611.95,894.19 L610.57,892.71 L609.26,891.18 L608.02,889.60 L606.84,887.99 L605.71,886.33 L604.63,884.64 L603.59,882.93 L602.58,881.18 L601.60,879.42 L600.65,877.64 L599.71,875.85 L598.78,874.04 L597.85,872.24 L596.92,870.43 L595.98,868.63 L595.02,866.83 L594.07,865.03 L593.10,863.24 L592.14,861.45 L591.18,859.66 L590.21,857.87 L589.26,856.07 L588.31,854.28 L587.38,852.48 L586.45,850.68 L585.54,848.87 L584.65,847.06 L583.77,845.24 L582.92,843.42 L582.08,841.59 L581.27,839.75 L580.49,837.90 L579.73,836.04 L579.00,834.16 L578.31,832.28 L577.64,830.39 L577.01,828.48 L576.42,826.55 L575.87,824.61 L575.35,822.66 L574.87,820.69 L574.43,818.71 L574.02,816.72 L573.64,814.72 L573.29,812.71 L572.97,810.69 L572.67,808.67 L572.39,806.64 L572.14,804.61 L571.90,802.58 L571.68,800.54 L571.47,798.51 L571.28,796.47 L571.09,794.44 L570.92,792.41 L570.76,790.38 L570.61,788.35 L570.47,786.32 L570.33,784.29 L570.21,782.26 L570.09,780.24 L569.98,778.21 L569.87,776.18 L569.77,774.16 L569.67,772.13 L569.58,770.11 L569.49,768.09 L569.40,766.06 L569.32,764.04 L569.23,762.02 L569.15,760.00 L569.06,757.98 L568.97,755.96 L568.88,753.94 L568.79,751.93 L568.70,749.91 L568.60,747.89 L568.50,745.87 L568.39,743.86 L568.27,741.84 L568.15,739.83 L568.02,737.81 L567.88,735.80 L567.74,733.78 L567.58,731.77 L567.41,729.76 L567.23,727.75 L567.04,725.73 L566.84,723.72 L566.63,721.71 L566.40,719.70 L566.15,717.69 L565.90,715.68 L565.62,713.67 L565.33,711.66 L565.02,709.65 L564.69,707.64 L564.35,705.63 L563.98,703.62 L563.60,701.62 L563.19,699.61 L562.76,697.60 L562.31,695.59 L561.84,693.59 L561.34,691.58 L560.82,689.57 L560.27,687.58 L559.68,685.60 L559.04,683.64 L558.36,681.71 L557.63,679.82 L556.84,677.97 L555.98,676.17 L555.05,674.43 L554.04,672.75 L552.95,671.14 L551.78,669.61 L550.51,668.17 L549.14,666.82 L547.67,665.56 L546.09,664.41 L544.39,663.38 L542.58,662.46 L540.66,661.68 L538.64,661.03 L536.52,660.53 L534.30,660.18 L532.00,660.00" stroke-dasharray="8,8"/>
<path d="M532.00,660.00 L534.11,660.07 L536.15,660.34 L538.13,660.79 L540.05,661.42 L541.89,662.20 L543.67,663.13 L545.37,664.19 L547.01,665.36 L548.57,666.64 L550.06,668.01 L551.48,669.46 L552.82,670.97 L554.09,672.54 L555.29,674.15 L556.41,675.81 L557.47,677.50 L558.46,679.24 L559.40,681.01 L560.27,682.82 L561.09,684.65 L561.86,686.51 L562.58,688.40 L563.25,690.30 L563.88,692.23 L564.47,694.17 L565.01,696.12 L565.53,698.08 L566.01,700.04 L566.46,702.01 L566.89,703.99 L567.29,705.96 L567.66,707.94 L568.01,709.93 L568.33,711.91 L568.64,713.90 L568.92,715.89 L569.19,717.89 L569.44,719.88 L569.67,721.88 L569.89,723.88 L570.09,725.88 L570.29,727.88 L570.47,729.89 L570.64,731.89 L570.81,733.90 L570.97,735.91 L571.13,737.91 L571.28,739.92 L571.43,741.93 L571.58,743.94 L571.72,745.95 L571.87,747.95 L572.02,749.96 L572.18,751.97 L572.33,753.98 L572.48,755.98 L572.63,757.99 L572.78,760.00 L572.93,762.00 L573.08,764.01 L573.23,766.02 L573.37,768.02 L573.52,770.03 L573.67,772.04 L573.81,774.04 L573.95,776.05 L574.09,778.06 L574.23,780.06 L574.37,782.07 L574.50,784.08 L574.63,786.09 L574.76,788.09 L574.89,790.10 L575.01,792.11 L575.13,794.12 L575.24,796.13 L575.36,798.14 L575.47,800.15 L575.57,802.16 L575.67,804.17 L575.77,806.18 L575.86,808.19 L575.95,810.20 L576.04,812.21 L576.12,814.22 L576.20,816.24 L576.28,818.25 L576.35,820.26 L576.43,822.27 L576.50,824.29 L576.57,826.30 L576.64,828.31 L576.71,830.33 L576.78,832.34 L576.85,834.35 L576.91,836.36 L576.98,838.38 L577.05,840.39 L577.12,842.40 L577.19,844.42 L577.26,846.43 L577.34,848.44 L577.41,850.45 L577.49,852.47 L577.57,854.48 L577.66,856.49 L577.74,858.50 L577.83,860.51 L577.93,862.52 L578.02,864.53 L578.12,866.54 L578.23,868.55 L578.34,870.56 L578.46,872.57 L578.58,874.58 L578.70,876.58 L578.84,878.59 L578.97,880.60 L579.12,882.60 L579.27,884.61 L579.43,886.61 L579.59,888.62 L579.76,890.62 L579.95,892.62 L580.13,894.62 L580.33,896.62 L580.54,898.62 L580.75,900.62 L580.97,902.62 L581.21,904.62 L581.45,906.61 L581.70,908.61 L581.96,910.60 L582.24,912.60 L582.52,914.59 L582.81,916.58 L583.12,918.57 L583.44,920.56 L583.77,922.55 L584.11,924.53 L584.46,926.52 L584.83,928.50 L585.20,930.48 L585.59,932.46 L585.99,934.43 L586.41,936.41 L586.83,938.37 L587.26,940.34 L587.71,942.30 L588.17,944.26 L588.64,946.21 L589.12,948.16 L589.61,950.10 L590.12,952.04 L590.63,953.97 L591.16,955.90 L591.70,957.82 L592.25,959.74 L592.81,961.64 L593.40,963.54 L594.04,965.42 L594.75,967.27 L595.54,969.09 L596.43,970.87 L597.45,972.61 L598.61,974.30 L599.93,975.94 L601.43,977.51"/>
<path d="M585.68,1207.76 L584.16,1206.28 L582.72,1204.76 L581.33,1203.22 L580.00,1201.65 L578.72,1200.06 L577.51,1198.44 L576.35,1196.80 L575.24,1195.13 L574.19,1193.45 L573.18,1191.74 L572.23,1190.01 L571.32,1188.26 L570.46,1186.49 L569.64,1184.70 L568.87,1182.89 L568.14,1181.07 L567.45,1179.23 L566.80,1177.37 L566.19,1175.50 L565.62,1173.61 L565.08,1171.71 L564.57,1169.79 L564.10,1167.86 L563.66,1165.92 L563.25,1163.97 L562.87,1162.01 L562.51,1160.03 L562.18,1158.05 L561.88,1156.06 L561.59,1154.06 L561.33,1152.05 L561.09,1150.04 L560.87,1148.02 L560.66,1145.99 L560.47,1143.96 L560.30,1141.93 L560.14,1139.89 L559.99,1137.85 L559.85,1135.81 L559.72,1133.77 L559.59,1131.72 L559.48,1129.68 L559.36,1127.63 L559.26,1125.59 L559.15,1123.55 L559.04,1121.51 L558.94,1119.48 L558.85,1117.44 L558.75,1115.41 L558.66,1113.38 L558.57,1111.35 L558.49,1109.32 L558.41,1107.29 L558.34,1105.27 L558.27,1103.25 L558.21,1101.23 L558.16,1099.21 L558.11,1097.19 L558.06,1095.17 L558.02,1093.16 L557.99,1091.14 L557.97,1089.13 L557.96,1087.12 L557.95,1085.11 L557.95,1083.10 L557.96,1081.10 L557.98,1079.09 L558.00,1077.09 L558.04,1075.08 L558.08,1073.08 L558.14,1071.08 L558.20,1069.08 L558.28,1067.08 L558.36,1065.09 L558.46,1063.09 L558.57,1061.09 L558.69,1059.10 L558.82,1057.11 L558.97,1055.11 L559.12,1053.12 L559.29,1051.13 L559.47,1049.14 L559.67,1047.15 L559.88,1045.17 L560.10,1043.18 L560.34,1041.19 L560.59,1039.21 L560.85,1037.22 L561.12,1035.24 L561.40,1033.25 L561.70,1031.27 L562.01,1029.29 L562.32,1027.31 L562.64,1025.32 L562.98,1023.34 L563.32,1021.36 L563.67,1019.38 L564.02,1017.40 L564.38,1015.42 L564.75,1013.44 L565.13,1011.46 L565.50,1009.48 L565.89,1007.51 L566.27,1005.53 L566.66,1003.55 L567.06,1001.57 L567.45,999.59 L567.85,997.61 L568.25,995.63 L568.65,993.66 L569.04,991.68 L569.44,989.70 L569.84,987.72 L570.24,985.74 L570.63,983.76 L571.02,981.78 L571.41,979.80 L571.80,977.82 L572.18,975.84 L572.55,973.86 L572.93,971.87 L573.29,969.89 L573.65,967.91 L574.00,965.92 L574.35,963.94 L574.69,961.96 L575.02,959.97 L575.34,957.98 L575.65,956.00 L575.95,954.01 L576.24,952.02 L576.52,950.03 L576.79,948.04 L577.05,946.05 L577.29,944.06 L577.52,942.06 L577.74,940.07 L577.94,938.08 L578.13,936.08 L578.30,934.08 L578.46,932.08 L578.60,930.08 L578.73,928.09 L578.83,926.08 L578.92,924.08 L578.99,922.08 L579.04,920.08 L579.08,918.08 L579.09,916.07 L579.08,914.07 L579.05,912.07 L579.00,910.07 L578.92,908.06 L578.83,906.06 L578.70,904.06 L578.56,902.05 L578.40,900.05 L578.23,898.05 L578.06,896.05 L577.87,894.04 L577.69,892.04 L577.52,890.04 L577.36,888.03 L577.21,886.03 L577.08,884.03 L576.95,882.02 L576.84,880.02 L576.74,878.01 L576.64,876.01 L576.56,874.00 L576.49,871.99 L576.42,869.99 L576.36,867.98 L576.30,865.97 L576.25,863.96 L576.21,861.95 L576.17,859.94 L576.13,857.93 L576.09,855.92 L576.05,853.91 L576.02,851.90 L575.99,849.89 L575.95,847.88 L575.92,845.87 L575.88,843.85 L575.85,841.84 L575.82,839.83 L575.78,837.82 L575.74,835.80 L575.70,833.79 L575.67,831.78 L575.62,829.76 L575.58,827.75 L575.53,825.74 L575.49,823.72 L575.44,821.71 L575.38,819.70 L575.33,817.69 L575.27,815.67 L575.20,813.66 L575.13,811.65 L575.06,809.64 L574.99,807.63 L574.90,805.62 L574.82,803.61 L574.73,801.60 L574.63,799.59 L574.53,797.58 L574.42,795.57 L574.31,793.57 L574.19,791.56 L574.06,789.56 L573.93,787.55 L573.79,785.55 L573.64,783.55 L573.49,781.54 L573.33,779.54 L573.16,777.54 L572.98,775.54 L572.80,773.55 L572.60,771.55 L572.40,769.55 L572.19,767.56 L571.97,765.57 L571.74,763.57 L571.50,761.58 L571.26,759.59 L571.00,757.60 L570.74,755.61 L570.47,753.62 L570.19,751.64 L569.90,749.65 L569.61,747.67 L569.30,745.68 L568.99,743.70 L568.67,741.72 L568.34,739.73 L568.00,737.75 L567.66,735.77 L567.30,733.79 L566.94,731.81 L566.57,729.84 L566.19,727.86 L565.80,725.88 L565.40,723.91 L564.99,721.93 L564.58,719.96 L564.16,717.99 L563.73,716.01 L563.29,714.04 L562.84,712.07 L562.38,710.10 L561.92,708.13 L561.44,706.16 L560.96,704.19 L560.47,702.22 L559.97,700.25 L559.46,698.28 L558.95,696.32 L558.42,694.35 L557.89,692.38 L557.35,690.42 L556.79,688.46 L556.22,686.51 L555.61,684.57 L554.98,682.66 L554.30,680.78 L553.57,678.94 L552.79,677.13 L551.95,675.38 L551.03,673.68 L550.04,672.05 L548.96,670.48 L547.80,668.99 L546.53,667.57 L545.16,666.25 L543.67,665.02 L542.07,663.89 L540.33,662.86 L538.47,661.96 L536.46,661.17 L534.31,660.52 L532.00,660.00" stroke-dasharray="8,8"/>
<path d="M574.96,664.40 L572.77,665.24 L571.12,666.41 L569.95,667.84 L569.15,669.50 L568.63,671.31 L568.31,673.24 L568.09,675.22 L567.92,677.21 L567.76,679.21 L567.63,681.21 L567.53,683.22 L567.45,685.23 L567.38,687.25 L567.34,689.28 L567.32,691.31 L567.31,693.34 L567.32,695.38 L567.35,697.42 L567.39,699.46 L567.44,701.51 L567.51,703.56 L567.58,705.61 L567.66,707.67 L567.76,709.72 L567.85,711.78 L567.96,713.83 L568.07,715.89 L568.18,717.95 L568.30,720.01 L568.41,722.07 L568.53,724.12 L568.64,726.18 L568.76,728.23 L568.87,730.29 L568.97,732.34 L569.07,734.38 L569.16,736.43 L569.25,738.47 L569.32,740.51 L569.39,742.55 L569.44,744.58 L569.49,746.61 L569.52,748.64 L569.55,750.67 L569.56,752.69 L569.57,754.71 L569.56,756.73 L569.55,758.74 L569.53,760.76 L569.50,762.78 L569.46,764.79 L569.41,766.80 L569.36,768.82 L569.29,770.83 L569.22,772.84 L569.14,774.86 L569.05,776.87 L568.96,778.89 L568.86,780.90 L568.75,782.92 L568.63,784.94 L568.50,786.96 L568.37,788.99 L568.24,791.02 L568.09,793.04 L567.94,795.08 L567.78,797.11 L567.62,799.15 L567.45,801.19 L567.27,803.24 L567.09,805.29 L566.90,807.34 L566.71,809.40 L566.51,811.47 L566.31,813.54 L566.10,815.61 L565.87,817.68 L565.63,819.75 L565.34,821.81 L565.02,823.84 L564.65,825.85 L564.22,827.84 L563.73,829.79 L563.16,831.69 L562.50,833.56 L561.75,835.37 L560.90,837.12 L559.94,838.81 L558.86,840.43 L557.66,841.98 L556.31,843.45 L554.84,844.83 L553.24,846.12 L551.55,847.32 L549.76,848.42 L547.90,849.41 L545.98,850.29 L544.00,851.06 L542.00,851.71 L539.98,852.24 L537.96,852.63 L535.94,852.90 L533.95,853.02 L532.00,853.00" stroke-dasharray="8,8"/>
<path d="M614.00,743.03 L612.41,744.18 L610.80,745.35 L609.15,746.53 L607.49,747.72 L605.81,748.93 L604.12,750.16 L602.43,751.41 L600.75,752.68 L599.07,753.97 L597.40,755.28 L595.76,756.62 L594.14,757.99 L592.56,759.38 L591.01,760.80 L589.51,762.25 L588.06,763.74 L586.67,765.25 L585.33,766.80 L584.07,768.38 L582.88,770.00 L581.76,771.65 L580.71,773.34 L579.72,775.06 L578.79,776.81 L577.93,778.60 L577.12,780.41 L576.37,782.25 L575.66,784.13 L575.00,786.03 L574.39,787.95 L573.82,789.90 L573.29,791.88 L572.80,793.88 L572.33,795.90 L571.90,797.95 L571.49,800.01 L571.11,802.09 L570.75,804.19 L570.39,806.30 L570.05,808.42 L569.70,810.53 L569.35,812.65 L568.98,814.76 L568.60,816.85 L568.20,818.94 L567.76,821.00 L567.30,823.04 L566.79,825.05 L566.23,827.03 L565.63,828.97 L564.96,830.87 L564.23,832.73 L563.43,834.53 L562.56,836.28 L561.60,837.98 L560.56,839.61 L559.42,841.18 L558.18,842.67 L556.84,844.09 L555.39,845.43 L553.82,846.68 L552.15,847.85 L550.38,848.91 L548.52,849.88 L546.59,850.73 L544.60,851.46 L542.56,852.07 L540.48,852.55 L538.37,852.89 L536.25,853.08 L534.12,853.12 L532.00,853.00" stroke-dasharray="8,8"/>
<path d="M588.36,826.92 L586.48,827.79 L584.63,828.73 L582.81,829.71 L581.00,830.73 L579.21,831.80 L577.43,832.89 L575.66,834.01 L573.90,835.15 L572.14,836.29 L570.39,837.44 L568.63,838.59 L566.86,839.73 L565.09,840.86 L563.30,841.96 L561.51,843.04 L559.70,844.10 L557.88,845.12 L556.04,846.09 L554.19,847.03 L552.31,847.92 L550.41,848.75 L548.48,849.52 L546.53,850.23 L544.55,850.88 L542.55,851.44 L540.51,851.93 L538.44,852.34 L536.33,852.65 L534.18,852.88 L532.00,853.00" stroke-dasharray="8,8"/>
<path d="M620.15,900.70 L618.18,900.06 L616.25,899.35 L614.36,898.57 L612.50,897.73 L610.67,896.83 L608.88,895.88 L607.11,894.87 L605.38,893.82 L603.66,892.72 L601.98,891.59 L600.31,890.41 L598.66,889.20 L597.03,887.97 L595.42,886.71 L593.81,885.42 L592.22,884.12 L590.64,882.80 L589.07,881.47 L587.49,880.14 L585.93,878.80 L584.36,877.46 L582.79,876.13 L581.22,874.80 L579.64,873.48 L578.06,872.18 L576.46,870.90 L574.86,869.64 L573.24,868.41 L571.61,867.21 L569.95,866.04 L568.28,864.91 L566.59,863.82 L564.87,862.77 L563.13,861.76 L561.37,860.81 L559.58,859.90 L557.77,859.04 L555.94,858.23 L554.08,857.47 L552.20,856.77 L550.29,856.12 L548.36,855.53 L546.41,854.99 L544.43,854.52 L542.42,854.10 L540.39,853.75 L538.33,853.47 L536.25,853.24 L534.14,853.09 L532.00,853.00" stroke-dasharray="8,8"/>
<path d="M532.00,853.00 L533.98,853.33 L536.01,853.60 L538.09,853.82 L540.18,854.04 L542.28,854.27 L544.36,854.55 L546.41,854.91 L548.42,855.37 L550.36,855.96 L552.21,856.71 L553.96,857.65 L555.61,858.76 L557.16,860.02 L558.61,861.41 L559.97,862.91 L561.23,864.49 L562.39,866.13 L563.47,867.83 L564.47,869.58 L565.39,871.37 L566.23,873.22 L567.01,875.10 L567.73,877.01 L568.39,878.96 L569.00,880.94 L569.56,882.94 L570.08,884.95 L570.57,886.99 L571.03,889.03 L571.46,891.09 L571.87,893.14 L572.27,895.20 L572.65,897.25 L573.03,899.30 L573.41,901.34 L573.77,903.38 L574.14,905.41 L574.50,907.43 L574.85,909.45 L575.21,911.47 L575.56,913.49 L575.92,915.50 L576.27,917.50 L576.63,919.51 L576.98,921.51 L577.34,923.51 L577.71,925.50 L578.08,927.50 L578.45,929.49 L578.84,931.48 L579.22,933.47 L579.62,935.46 L580.03,937.45 L580.44,939.44 L580.87,941.43 L581.31,943.41 L581.76,945.40 L582.22,947.39 L582.70,949.38 L583.19,951.38 L583.70,953.37 L584.22,955.37 L584.77,957.36 L585.34,959.35 L585.96,961.32 L586.63,963.26 L587.36,965.18 L588.16,967.05 L589.05,968.87 L590.04,970.64 L591.12,972.34 L592.32,973.96 L593.65,975.51 L595.12,976.97 L596.73,978.32 L598.50,979.58 L600.44,980.71"/>
<path d="M585.02,1122.74 L583.24,1121.93 L581.48,1121.01 L579.75,1120.01 L578.05,1118.91 L576.39,1117.73 L574.78,1116.47 L573.22,1115.13 L571.71,1113.72 L570.28,1112.24 L568.91,1110.71 L567.61,1109.11 L566.40,1107.46 L565.28,1105.76 L564.24,1104.01 L563.31,1102.22 L562.48,1100.40 L561.77,1098.54 L561.15,1096.66 L560.62,1094.74 L560.18,1092.81 L559.82,1090.85 L559.52,1088.87 L559.29,1086.88 L559.10,1084.88 L558.97,1082.86 L558.86,1080.84 L558.79,1078.81 L558.73,1076.79 L558.69,1074.76 L558.66,1072.73 L558.65,1070.71 L558.64,1068.69 L558.65,1066.66 L558.67,1064.64 L558.69,1062.62 L558.73,1060.60 L558.78,1058.58 L558.84,1056.56 L558.90,1054.54 L558.98,1052.52 L559.06,1050.50 L559.15,1048.49 L559.25,1046.47 L559.36,1044.46 L559.48,1042.44 L559.60,1040.43 L559.72,1038.41 L559.86,1036.40 L560.00,1034.39 L560.14,1032.37 L560.29,1030.36 L560.45,1028.35 L560.61,1026.34 L560.77,1024.33 L560.94,1022.32 L561.11,1020.30 L561.28,1018.29 L561.46,1016.28 L561.63,1014.27 L561.81,1012.26 L562.00,1010.25 L562.18,1008.24 L562.36,1006.23 L562.55,1004.22 L562.73,1002.21 L562.92,1000.20 L563.10,998.19 L563.28,996.18 L563.46,994.17 L563.64,992.16 L563.82,990.15 L564.00,988.13 L564.17,986.12 L564.34,984.11 L564.51,982.10 L564.67,980.08 L564.84,978.07 L564.99,976.06 L565.15,974.04 L565.30,972.03 L565.45,970.02 L565.61,968.00 L565.76,965.99 L565.91,963.97 L566.06,961.96 L566.21,959.95 L566.36,957.93 L566.51,955.92 L566.67,953.91 L566.83,951.89 L566.99,949.88 L567.15,947.87 L567.32,945.85 L567.49,943.84 L567.67,941.83 L567.85,939.82 L568.04,937.81 L568.23,935.80 L568.43,933.79 L568.63,931.78 L568.85,929.77 L569.07,927.77 L569.29,925.76 L569.53,923.75 L569.77,921.75 L570.03,919.75 L570.29,917.74 L570.56,915.74 L570.84,913.74 L571.12,911.74 L571.39,909.74 L571.66,907.74 L571.93,905.73 L572.18,903.73 L572.41,901.72 L572.63,899.72 L572.83,897.71 L573.01,895.70 L573.15,893.68 L573.27,891.66 L573.36,889.64 L573.40,887.62 L573.41,885.59 L573.38,883.56 L573.29,881.52 L573.16,879.48 L572.97,877.44 L572.70,875.42 L572.33,873.44 L571.84,871.51 L571.20,869.67 L570.38,867.93 L569.38,866.30 L568.16,864.81 L566.72,863.48 L565.08,862.29 L563.30,861.24 L561.44,860.31 L559.53,859.47 L557.60,858.73 L555.64,858.06 L553.66,857.46 L551.68,856.92 L549.70,856.41 L547.73,855.93 L545.77,855.47 L543.84,855.02 L541.92,854.57 L540.00,854.14 L538.07,853.76 L536.10,853.43 L534.09,853.17 L532.00,853.00" stroke-dasharray="8,8"/>
<path d="M532.00,853.00 L533.96,853.20 L535.97,853.42 L537.99,853.65 L540.03,853.93 L542.07,854.26 L544.09,854.66 L546.08,855.13 L548.04,855.70 L549.94,856.38 L551.77,857.18 L553.53,858.11 L555.20,859.18 L556.79,860.37 L558.28,861.66 L559.67,863.05 L560.97,864.53 L562.17,866.08 L563.26,867.69 L564.27,869.36 L565.19,871.09 L566.03,872.87 L566.80,874.70 L567.51,876.56 L568.15,878.47 L568.75,880.40 L569.30,882.37 L569.81,884.35 L570.29,886.36 L570.74,888.38 L571.17,890.40 L571.60,892.43 L572.02,894.46 L572.44,896.49 L572.86,898.50 L573.29,900.51 L573.72,902.51 L574.16,904.51 L574.59,906.50 L575.02,908.48 L575.44,910.46 L575.86,912.43 L576.27,914.40 L576.67,916.37 L577.05,918.33 L577.43,920.29 L577.78,922.26 L578.12,924.22 L578.44,926.18 L578.74,928.15 L579.02,930.11 L579.27,932.08 L579.49,934.05 L579.69,936.02 L579.85,938.00 L579.99,939.99 L580.08,941.98 L580.15,943.97 L580.18,945.98 L580.18,947.98 L580.15,949.99 L580.11,952.01 L580.05,954.03 L579.98,956.05 L579.90,958.07 L579.82,960.09 L579.75,962.11 L579.67,964.13 L579.60,966.15 L579.53,968.17 L579.46,970.19 L579.40,972.21 L579.33,974.23 L579.27,976.25 L579.21,978.27 L579.15,980.29 L579.09,982.30 L579.03,984.32 L578.98,986.34 L578.93,988.35 L578.87,990.37 L578.82,992.39 L578.77,994.40 L578.72,996.42 L578.67,998.43 L578.62,1000.45 L578.57,1002.46 L578.52,1004.48 L578.47,1006.49 L578.42,1008.50 L578.37,1010.52 L578.33,1012.53 L578.28,1014.54 L578.23,1016.56 L578.18,1018.57 L578.13,1020.58 L578.08,1022.59 L578.03,1024.61 L577.98,1026.62 L577.93,1028.63 L577.88,1030.64 L577.82,1032.65 L577.77,1034.66 L577.71,1036.67 L577.65,1038.68 L577.60,1040.69 L577.54,1042.70 L577.47,1044.71 L577.41,1046.72 L577.35,1048.73 L577.28,1050.74 L577.21,1052.75 L577.14,1054.76 L577.07,1056.77 L576.99,1058.78 L576.91,1060.79 L576.83,1062.80 L576.75,1064.81 L576.67,1066.82 L576.58,1068.82 L576.49,1070.83 L576.40,1072.84 L576.31,1074.85 L576.22,1076.86 L576.12,1078.87 L576.02,1080.87 L575.92,1082.88 L575.82,1084.89 L575.72,1086.90 L575.62,1088.90 L575.52,1090.91 L575.41,1092.92 L575.31,1094.93 L575.20,1096.94 L575.09,1098.94 L574.99,1100.95 L574.88,1102.96 L574.77,1104.96 L574.66,1106.97 L574.55,1108.98 L574.44,1110.99 L574.33,1112.99 L574.22,1115.00 L574.11,1117.01 L574.00,1119.02 L573.89,1121.02 L573.78,1123.03 L573.67,1125.04 L573.56,1127.05 L573.45,1129.05 L573.35,1131.06 L573.24,1133.07 L573.13,1135.07 L573.03,1137.08 L572.92,1139.09 L572.82,1141.10 L572.72,1143.10 L572.62,1145.11 L572.52,1147.12 L572.42,1149.13 L572.33,1151.13 L572.23,1153.14 L572.14,1155.15 L572.05,1157.16 L571.96,1159.17 L571.87,1161.17 L571.79,1163.18 L571.71,1165.19 L571.63,1167.20 L571.55,1169.21 L571.47,1171.22 L571.40,1173.22 L571.33,1175.23 L571.26,1177.24 L571.20,1179.25 L571.13,1181.26 L571.07,1183.27 L571.02,1185.28 L570.96,1187.29 L570.91,1189.30 L570.87,1191.30 L570.82,1193.31 L570.78,1195.32 L570.75,1197.33 L570.72,1199.34 L570.69,1201.35 L570.66,1203.36 L570.64,1205.38 L570.62,1207.39 L570.61,1209.40 L570.60,1211.41 L570.60,1213.42 L570.60,1215.43 L570.60,1217.44 L570.61,1219.45 L570.63,1221.47 L570.65,1223.48 L570.67,1225.49 L570.70,1227.50 L570.73,1229.51 L570.77,1231.53 L570.81,1233.54 L570.86,1235.55 L570.91,1237.57 L570.97,1239.58 L571.04,1241.59 L571.11,1243.61 L571.19,1245.62 L571.27,1247.64 L571.36,1249.65 L571.45,1251.67 L571.55,1253.68 L571.66,1255.70 L571.77,1257.71 L571.89,1259.73 L572.01,1261.75 L572.14,1263.76 L572.28,1265.78 L572.43,1267.80 L572.58,1269.81 L572.74,1271.83 L572.90,1273.85 L573.08,1275.87 L573.26,1277.88 L573.44,1279.90 L573.64,1281.92 L573.84,1283.94 L574.05,1285.96 L574.26,1287.98 L574.49,1290.00 L574.72,1292.02 L574.96,1294.04 L575.21,1296.06 L575.47,1298.08 L575.74,1300.10 L576.03,1302.11 L576.34,1304.12 L576.66,1306.12 L577.01,1308.11 L577.39,1310.10 L577.80,1312.07 L578.23,1314.03 L578.70,1315.97 L579.21,1317.90 L579.76,1319.82 L580.34,1321.71 L580.97,1323.59 L581.65,1325.45 L582.38,1327.28 L583.16,1329.09 L583.99,1330.87 L584.88,1332.63 L585.83,1334.36 L586.84,1336.06 L587.91,1337.73 L589.06,1339.37 L590.26,1340.98 L591.51,1342.57 L592.78,1344.14 L594.06,1345.71 L595.32,1347.28 L596.56,1348.87 L597.75,1350.48 L598.87,1352.11"/>
<path d="M532.00,853.00 L534.17,853.44 L536.18,854.05 L538.04,854.83 L539.77,855.77 L541.37,856.85 L542.84,858.06 L544.20,859.39 L545.46,860.83 L546.62,862.36 L547.70,863.97 L548.69,865.66 L549.61,867.40 L550.47,869.20 L551.26,871.04 L552.01,872.92 L552.71,874.82 L553.38,876.75 L554.02,878.68 L554.63,880.62 L555.22,882.57 L555.78,884.51 L556.32,886.47 L556.84,888.42 L557.34,890.39 L557.82,892.35 L558.28,894.32 L558.71,896.29 L559.13,898.27 L559.54,900.25 L559.92,902.23 L560.29,904.21 L560.64,906.20 L560.98,908.19 L561.31,910.18 L561.62,912.18 L561.92,914.17 L562.20,916.17 L562.48,918.17 L562.74,920.17 L562.99,922.17 L563.24,924.17 L563.47,926.17 L563.70,928.17 L563.92,930.18 L564.14,932.18 L564.34,934.18 L564.54,936.19 L564.74,938.19 L564.93,940.19 L565.11,942.20 L565.29,944.20 L565.46,946.20 L565.63,948.21 L565.79,950.21 L565.95,952.22 L566.10,954.22 L566.24,956.23 L566.38,958.23 L566.52,960.24 L566.65,962.24 L566.78,964.25 L566.91,966.25 L567.03,968.26 L567.14,970.26 L567.26,972.27 L567.36,974.27 L567.47,976.28 L567.57,978.29 L567.67,980.29 L567.77,982.30 L567.86,984.30 L567.95,986.31 L568.04,988.32 L568.12,990.32 L568.20,992.33 L568.28,994.34 L568.36,996.34 L568.44,998.35 L568.51,1000.36 L568.59,1002.37 L568.66,1004.37 L568.73,1006.38 L568.80,1008.39 L568.87,1010.40 L568.93,1012.40 L569.00,1014.41 L569.06,1016.42 L569.13,1018.43 L569.19,1020.43 L569.26,1022.44 L569.32,1024.45 L569.39,1026.46 L569.45,1028.47 L569.51,1030.48 L569.58,1032.48 L569.65,1034.49 L569.71,1036.50 L569.78,1038.51 L569.85,1040.52 L569.92,1042.53 L569.99,1044.54 L570.06,1046.55 L570.13,1048.55 L570.21,1050.56 L570.29,1052.57 L570.36,1054.58 L570.44,1056.59 L570.53,1058.60 L570.61,1060.61 L570.69,1062.62 L570.78,1064.63 L570.87,1066.64 L570.96,1068.65 L571.04,1070.66 L571.13,1072.67 L571.23,1074.68 L571.32,1076.69 L571.41,1078.70 L571.50,1080.71 L571.59,1082.72 L571.69,1084.73 L571.78,1086.74 L571.88,1088.75 L571.97,1090.76 L572.06,1092.77 L572.16,1094.78 L572.25,1096.79 L572.34,1098.80 L572.44,1100.81 L572.53,1102.82 L572.62,1104.83 L572.71,1106.84 L572.80,1108.85 L572.89,1110.86 L572.98,1112.87 L573.07,1114.88 L573.15,1116.89 L573.24,1118.90 L573.32,1120.91 L573.41,1122.92 L573.49,1124.93 L573.57,1126.94 L573.65,1128.95 L573.72,1130.96 L573.80,1132.97 L573.87,1134.98 L573.94,1136.99 L574.01,1139.00 L574.07,1141.02 L574.14,1143.03 L574.20,1145.04 L574.26,1147.05 L574.32,1149.06 L574.37,1151.07 L574.43,1153.08 L574.48,1155.09 L574.53,1157.10 L574.58,1159.11 L574.62,1161.12 L574.67,1163.13 L574.71,1165.14 L574.75,1167.15 L574.79,1169.16 L574.83,1171.17 L574.87,1173.18 L574.90,1175.19 L574.94,1177.21 L574.97,1179.22 L575.00,1181.23 L575.03,1183.24 L575.06,1185.25 L575.08,1187.26 L575.11,1189.27 L575.14,1191.28 L575.16,1193.29 L575.18,1195.30 L575.21,1197.31 L575.23,1199.32 L575.25,1201.33 L575.27,1203.34 L575.29,1205.35 L575.31,1207.36 L575.32,1209.37 L575.34,1211.39 L575.36,1213.40 L575.37,1215.41 L575.39,1217.42 L575.40,1219.43 L575.42,1221.44 L575.43,1223.45 L575.45,1225.46 L575.46,1227.47 L575.47,1229.48 L575.49,1231.49 L575.50,1233.50 L575.51,1235.51 L575.53,1237.52 L575.54,1239.53 L575.55,1241.54 L575.57,1243.55 L575.58,1245.57 L575.60,1247.58 L575.61,1249.59 L575.62,1251.60 L575.64,1253.61 L575.66,1255.62 L575.67,1257.63 L575.69,1259.64 L575.70,1261.65 L575.72,1263.66 L575.74,1265.67 L575.76,1267.68 L575.78,1269.69 L575.80,1271.70 L575.82,1273.71 L575.84,1275.72 L575.87,1277.73 L575.89,1279.74 L575.92,1281.75 L575.94,1283.77 L575.97,1285.78 L576.00,1287.79 L576.03,1289.80 L576.06,1291.81 L576.09,1293.82 L576.12,1295.83 L576.16,1297.84 L576.20,1299.85 L576.23,1301.86 L576.27,1303.87 L576.31,1305.88 L576.36,1307.89 L576.40,1309.90 L576.45,1311.91 L576.50,1313.92 L576.55,1315.93 L576.60,1317.94 L576.65,1319.95 L576.71,1321.96 L576.76,1323.97 L576.82,1325.98 L576.89,1328.00 L576.95,1330.01 L577.02,1332.02 L577.08,1334.03 L577.16,1336.04 L577.23,1338.05 L577.31,1340.06 L577.39,1342.07 L577.48,1344.08 L577.57,1346.08 L577.67,1348.09 L577.77,1350.10 L577.88,1352.11 L577.99,1354.12 L578.11,1356.12 L578.24,1358.13 L578.38,1360.14 L578.52,1362.14 L578.67,1364.15 L578.83,1366.15 L579.00,1368.15 L579.18,1370.15 L579.37,1372.16 L579.57,1374.16 L579.77,1376.16 L579.99,1378.15 L580.22,1380.15 L580.46,1382.15 L580.72,1384.14 L580.98,1386.14 L581.26,1388.13 L581.55,1390.12 L581.85,1392.11 L582.17,1394.10 L582.50,1396.08 L582.85,1398.07 L583.22,1400.05 L583.60,1402.03 L583.99,1404.00 L584.41,1405.97 L584.85,1407.93 L585.30,1409.89 L585.77,1411.85 L586.27,1413.80 L586.78,1415.75 L587.32,1417.68 L587.87,1419.62 L588.46,1421.54 L589.06,1423.46 L589.69,1425.37 L590.34,1427.28 L591.02,1429.17 L591.73,1431.06 L592.46,1432.94 L593.23,1434.80 L594.02,1436.65 L594.86,1438.48 L595.73,1440.29 L596.64,1442.08 L597.60,1443.84 L598.60,1445.57 L599.65,1447.27 L600.75,1448.94 L601.91,1450.57 L603.12,1452.16 L604.39,1453.71 L605.73,1455.22 L607.12,1456.68 L608.59,1458.09"/>
</g>
<polygon points="622.78,58.09 629.88,46.60 627.89,54.67 633.00,51.25 627.89,54.67 636.12,55.90 622.78,58.09" fill="#000" stroke="#000" stroke-width="1.33" stroke-linejoin="miter" stroke-miterlimit="10"/><circle cx="618.54" cy="60.93" r="4.2" fill="none" stroke="#000" stroke-width="1.33"/>
<polygon points="336.62,722.18 347.05,713.59 342.56,720.59 348.50,719.00 342.56,720.59 349.95,724.41 336.62,722.18" fill="#000" stroke="#000" stroke-width="1.33" stroke-linejoin="miter" stroke-miterlimit="10"/><circle cx="331.69" cy="723.50" r="4.2" fill="none" stroke="#000" stroke-width="1.33"/>
<polygon points="176.62,839.32 189.95,837.09 182.56,840.91 188.50,842.50 182.56,840.91 187.05,847.91 176.62,839.32" fill="#000" stroke="#000" stroke-width="1.33" stroke-linejoin="miter" stroke-miterlimit="10"/><circle cx="171.69" cy="838.00" r="4.2" fill="none" stroke="#000" stroke-width="1.33"/>
<polygon points="336.20,941.00 348.50,935.40 342.35,941.00 348.50,941.00 342.35,941.00 348.50,946.60 336.20,941.00" fill="#000" stroke="#000" stroke-width="1.33" stroke-linejoin="miter" stroke-miterlimit="10"/><circle cx="331.10" cy="941.00" r="4.2" fill="none" stroke="#000" stroke-width="1.33"/>
<polygon points="336.43,691.85 347.43,684.00 342.46,690.67 348.50,689.50 342.46,690.67 349.57,695.00 336.43,691.85" fill="#000" stroke="#000" stroke-width="1.33" stroke-linejoin="miter" stroke-miterlimit="10"/><circle cx="331.42" cy="692.82" r="4.2" fill="none" stroke="#000" stroke-width="1.33"/>
<polygon points="336.57,879.52 349.85,877.07 342.53,881.01 348.50,882.50 342.53,881.01 347.15,887.93 336.57,879.52" fill="#000" stroke="#000" stroke-width="1.33" stroke-linejoin="miter" stroke-miterlimit="10"/><circle cx="331.62" cy="878.29" r="4.2" fill="none" stroke="#000" stroke-width="1.33"/>
<polygon points="336.80,907.70 350.23,906.17 342.65,909.60 348.50,911.50 342.65,909.60 346.77,916.83 336.80,907.70" fill="#000" stroke="#000" stroke-width="1.33" stroke-linejoin="miter" stroke-miterlimit="10"/><circle cx="331.95" cy="906.12" r="4.2" fill="none" stroke="#000" stroke-width="1.33"/>
<polygon points="621.06,54.20 631.65,45.81 627.03,52.73 633.00,51.25 627.03,52.73 634.35,56.69 621.06,54.20" fill="#000" stroke="#000" stroke-width="1.33" stroke-linejoin="miter" stroke-miterlimit="10"/><circle cx="616.11" cy="55.43" r="4.2" fill="none" stroke="#000" stroke-width="1.33"/>
<polygon points="639.78,158.41 651.36,151.44 645.89,157.71 652.00,157.00 645.89,157.71 652.64,162.56 639.78,158.41" fill="#000" stroke="#000" stroke-width="1.33" stroke-linejoin="miter" stroke-miterlimit="10"/><circle cx="634.72" cy="159.00" r="4.2" fill="none" stroke="#000" stroke-width="1.33"/>
<polygon points="633.21,263.08 645.24,256.91 639.36,262.79 645.50,262.50 639.36,262.79 645.76,268.09 633.21,263.08" fill="#000" stroke="#000" stroke-width="1.33" stroke-linejoin="miter" stroke-miterlimit="10"/><circle cx="628.12" cy="263.32" r="4.2" fill="none" stroke="#000" stroke-width="1.33"/>
<polygon points="635.31,345.65 646.75,338.45 641.41,344.82 647.50,344.00 641.41,344.82 648.25,349.55 635.31,345.65" fill="#000" stroke="#000" stroke-width="1.33" stroke-linejoin="miter" stroke-miterlimit="10"/><circle cx="630.26" cy="346.33" r="4.2" fill="none" stroke="#000" stroke-width="1.33"/>
<polygon points="619.85,451.45 631.11,443.97 625.93,450.47 632.00,449.50 625.93,450.47 632.89,455.03 619.85,451.45" fill="#000" stroke="#000" stroke-width="1.33" stroke-linejoin="miter" stroke-miterlimit="10"/><circle cx="614.82" cy="452.25" r="4.2" fill="none" stroke="#000" stroke-width="1.33"/>
<polygon points="631.91,556.74 642.98,548.99 637.95,555.62 644.00,554.50 637.95,555.62 645.02,560.01 631.91,556.74" fill="#000" stroke="#000" stroke-width="1.33" stroke-linejoin="miter" stroke-miterlimit="10"/><circle cx="626.89" cy="557.67" r="4.2" fill="none" stroke="#000" stroke-width="1.33"/>
<polygon points="584.11,656.36 597.43,654.09 590.05,657.93 596.00,659.50 590.05,657.93 594.57,664.91 584.11,656.36" fill="#000" stroke="#000" stroke-width="1.33" stroke-linejoin="miter" stroke-miterlimit="10"/><circle cx="579.18" cy="655.06" r="4.2" fill="none" stroke="#000" stroke-width="1.33"/>
<polygon points="623.32,739.29 636.28,735.45 629.41,740.14 635.50,741.00 629.41,740.14 634.72,746.55 623.32,739.29" fill="#000" stroke="#000" stroke-width="1.33" stroke-linejoin="miter" stroke-miterlimit="10"/><circle cx="618.27" cy="738.58" r="4.2" fill="none" stroke="#000" stroke-width="1.33"/>
<polygon points="597.41,820.26 610.52,816.99 603.45,821.38 609.50,822.50 603.45,821.38 608.48,828.01 597.41,820.26" fill="#000" stroke="#000" stroke-width="1.33" stroke-linejoin="miter" stroke-miterlimit="10"/><circle cx="592.39" cy="819.33" r="4.2" fill="none" stroke="#000" stroke-width="1.33"/>
<polygon points="629.34,902.12 642.36,898.47 635.42,903.06 641.50,904.00 635.42,903.06 640.64,909.53 629.34,902.12" fill="#000" stroke="#000" stroke-width="1.33" stroke-linejoin="miter" stroke-miterlimit="10"/><circle cx="624.30" cy="901.34" r="4.2" fill="none" stroke="#000" stroke-width="1.33"/>
<polygon points="610.07,980.95 623.57,980.30 615.79,983.23 621.50,985.50 615.79,983.23 619.43,990.70 610.07,980.95" fill="#000" stroke="#000" stroke-width="1.33" stroke-linejoin="miter" stroke-miterlimit="10"/><circle cx="605.33" cy="979.07" r="4.2" fill="none" stroke="#000" stroke-width="1.33"/>
<polygon points="594.64,1210.23 607.99,1208.10 600.57,1211.87 606.50,1213.50 600.57,1211.87 605.01,1218.90 594.64,1210.23" fill="#000" stroke="#000" stroke-width="1.33" stroke-linejoin="miter" stroke-miterlimit="10"/><circle cx="589.72" cy="1208.88" r="4.2" fill="none" stroke="#000" stroke-width="1.33"/>
<polygon points="584.02,662.29 594.73,654.05 590.01,660.89 596.00,659.50 590.01,660.89 597.27,664.95 584.02,662.29" fill="#000" stroke="#000" stroke-width="1.33" stroke-linejoin="miter" stroke-miterlimit="10"/><circle cx="579.05" cy="663.44" r="4.2" fill="none" stroke="#000" stroke-width="1.33"/>
<polygon points="623.25,742.16 634.97,735.42 629.38,741.58 635.50,741.00 629.38,741.58 636.03,746.58 623.25,742.16" fill="#000" stroke="#000" stroke-width="1.33" stroke-linejoin="miter" stroke-miterlimit="10"/><circle cx="618.18" cy="742.64" r="4.2" fill="none" stroke="#000" stroke-width="1.33"/>
<polygon points="597.46,825.02 608.35,817.02 603.48,823.76 609.50,822.50 603.48,823.76 610.65,827.98 597.46,825.02" fill="#000" stroke="#000" stroke-width="1.33" stroke-linejoin="miter" stroke-miterlimit="10"/><circle cx="592.47" cy="826.06" r="4.2" fill="none" stroke="#000" stroke-width="1.33"/>
<polygon points="629.34,902.12 642.36,898.47 635.42,903.06 641.50,904.00 635.42,903.06 640.64,909.53 629.34,902.12" fill="#000" stroke="#000" stroke-width="1.33" stroke-linejoin="miter" stroke-miterlimit="10"/><circle cx="624.30" cy="901.34" r="4.2" fill="none" stroke="#000" stroke-width="1.33"/>
<polygon points="609.51,982.77 622.74,980.04 615.50,984.14 621.50,985.50 615.50,984.14 620.26,990.96 609.51,982.77" fill="#000" stroke="#000" stroke-width="1.33" stroke-linejoin="miter" stroke-miterlimit="10"/><circle cx="604.53" cy="981.65" r="4.2" fill="none" stroke="#000" stroke-width="1.33"/>
<polygon points="594.27,1123.71 607.09,1119.43 600.38,1124.36 606.50,1125.00 600.38,1124.36 605.91,1130.57 594.27,1123.71" fill="#000" stroke="#000" stroke-width="1.33" stroke-linejoin="miter" stroke-miterlimit="10"/><circle cx="589.20" cy="1123.18" r="4.2" fill="none" stroke="#000" stroke-width="1.33"/>
<polygon points="607.75,1354.86 621.16,1353.15 613.63,1356.68 619.50,1358.50 613.63,1356.68 617.84,1363.85 607.75,1354.86" fill="#000" stroke="#000" stroke-width="1.33" stroke-linejoin="miter" stroke-miterlimit="10"/><circle cx="602.88" cy="1353.35" r="4.2" fill="none" stroke="#000" stroke-width="1.33"/>
<polygon points="617.59,1460.42 630.90,1458.08 623.55,1461.96 629.50,1463.50 623.55,1461.96 628.10,1468.92 617.59,1460.42" fill="#000" stroke="#000" stroke-width="1.33" stroke-linejoin="miter" stroke-miterlimit="10"/><circle cx="612.65" cy="1459.14" r="4.2" fill="none" stroke="#000" stroke-width="1.33"/>
<rect x="633" y="10" width="205" height="30" fill="#f4f4f4"/>
<rect x="633.75" y="10.75" width="203.5" height="76.5" fill="none" stroke="#000" stroke-width="1.5"/>
<rect x="633" y="39" width="205" height="2"/>
<rect x="633" y="63" width="205" height="2"/>
<rect x="731" y="64" width="2" height="24"/>
<rect x="783" y="64" width="2" height="24"/>
<text x="640.35" y="27.5" font-size="14.7" font-weight="bold" textLength="139.19" lengthAdjust="spacingAndGlyphs" fill="#000">alertconf_unitgroup</text>
<text x="829.5" y="29" font-size="14" text-anchor="end" fill="#000">[table]</text>
<g fill="#000"><rect x="639" y="54" width="1" height="1"/><rect x="643" y="54" width="1" height="1"/><rect x="647" y="54" width="1" height="1"/></g>
<text x="638" y="80" font-size="14.3" fill="#000">&lt; 3</text>
<rect x="652" y="116" width="166" height="30" fill="#f4f4f4"/>
<rect x="652.75" y="116.75" width="164.5" height="76.5" fill="none" stroke="#000" stroke-width="1.5"/>
<rect x="652" y="145" width="166" height="2"/>
<rect x="652" y="169" width="166" height="2"/>
<rect x="731" y="170" width="2" height="24"/>
<rect x="774" y="170" width="2" height="24"/>
<text x="658.6" y="133.5" font-size="14.7" font-weight="bold" textLength="104.0" lengthAdjust="spacingAndGlyphs" fill="#000">unit_unitgroup</text>
<text x="809.5" y="135" font-size="14" text-anchor="end" fill="#000">[table]</text>
<g fill="#000"><rect x="658" y="160" width="1" height="1"/><rect x="662" y="160" width="1" height="1"/><rect x="666" y="160" width="1" height="1"/></g>
<text x="657" y="186" font-size="14.3" fill="#000">&lt; 2</text>
<rect x="645" y="221" width="181" height="30" fill="#f4f4f4"/>
<rect x="645.75" y="221.75" width="179.5" height="52.5" fill="none" stroke="#000" stroke-width="1.5"/>
<rect x="645" y="250" width="181" height="2"/>
<text x="653.15" y="238.5" font-size="14.7" font-weight="bold" textLength="118.93" lengthAdjust="spacingAndGlyphs" fill="#000">vw_shared_units</text>
<text x="817.5" y="240" font-size="14" text-anchor="end" fill="#000">[view]</text>
<g fill="#000"><rect x="651" y="265" width="1" height="1"/><rect x="655" y="265" width="1" height="1"/><rect x="659" y="265" width="1" height="1"/></g>
<rect x="647" y="302" width="175" height="30" fill="#f4f4f4"/>
<rect x="647.75" y="302.75" width="173.5" height="76.5" fill="none" stroke="#000" stroke-width="1.5"/>
<rect x="647" y="331" width="175" height="2"/>
<rect x="647" y="355" width="175" height="2"/>
<rect x="731" y="356" width="2" height="24"/>
<rect x="775" y="356" width="2" height="24"/>
<text x="655.45" y="319.5" font-size="14.7" font-weight="bold" textLength="111.61" lengthAdjust="spacingAndGlyphs" fill="#000">_iddefaultgroup</text>
<text x="813.5" y="321" font-size="14" text-anchor="end" fill="#000">[table]</text>
<g fill="#000"><rect x="653" y="346" width="1" height="1"/><rect x="657" y="346" width="1" height="1"/><rect x="661" y="346" width="1" height="1"/></g>
<text x="652" y="372" font-size="14.3" fill="#000">&lt; 1</text>
<rect x="631" y="407" width="208" height="31" fill="#f4f4f4"/>
<rect x="631.75" y="407.75" width="206.5" height="76.5" fill="none" stroke="#000" stroke-width="1.5"/>
<rect x="631" y="437" width="208" height="2"/>
<rect x="631" y="460" width="208" height="2"/>
<rect x="731" y="461" width="2" height="24"/>
<rect x="785" y="461" width="2" height="24"/>
<text x="639.19" y="424.5" font-size="14.7" font-weight="bold" textLength="142.72" lengthAdjust="spacingAndGlyphs" fill="#000">coverage_unitgroup</text>
<text x="830.5" y="426" font-size="14" text-anchor="end" fill="#000">[table]</text>
<g fill="#000"><rect x="637" y="452" width="1" height="1"/><rect x="641" y="452" width="1" height="1"/><rect x="645" y="452" width="1" height="1"/></g>
<text x="636" y="477" font-size="14.3" fill="#000">&lt; 2</text>
<rect x="644" y="513" width="183" height="30" fill="#f4f4f4"/>
<rect x="644.75" y="513.75" width="181.5" height="76.5" fill="none" stroke="#000" stroke-width="1.5"/>
<rect x="644" y="542" width="183" height="2"/>
<rect x="644" y="566" width="183" height="2"/>
<rect x="731" y="567" width="2" height="24"/>
<rect x="778" y="567" width="2" height="24"/>
<text x="650.48" y="530.5" font-size="14.7" font-weight="bold" textLength="121.66" lengthAdjust="spacingAndGlyphs" fill="#000">report_unitgroup</text>
<text x="818.5" y="532" font-size="14" text-anchor="end" fill="#000">[table]</text>
<g fill="#000"><rect x="650" y="557" width="1" height="1"/><rect x="654" y="557" width="1" height="1"/><rect x="658" y="557" width="1" height="1"/></g>
<text x="649" y="583" font-size="14.3" fill="#000">&lt; 2</text>
<rect x="596" y="618" width="278" height="30" fill="#f4f4f4"/>
<rect x="596.75" y="618.75" width="276.5" height="52.5" fill="none" stroke="#000" stroke-width="1.5"/>
<rect x="596" y="647" width="278" height="2"/>
<text x="603.9" y="635.5" font-size="14.7" font-weight="bold" textLength="211.55" lengthAdjust="spacingAndGlyphs" fill="#000">vw_shipperconf_extended_all</text>
<text x="865.5" y="637" font-size="14" text-anchor="end" fill="#000">[view]</text>
<g fill="#000"><rect x="602" y="662" width="1" height="1"/><rect x="606" y="662" width="1" height="1"/><rect x="610" y="662" width="1" height="1"/></g>
<rect x="635" y="700" width="200" height="30" fill="#f4f4f4"/>
<rect x="635.75" y="700.75" width="198.5" height="52.5" fill="none" stroke="#000" stroke-width="1.5"/>
<rect x="635" y="729" width="200" height="2"/>
<text x="643.8" y="717.5" font-size="14.7" font-weight="bold" textLength="137.03" lengthAdjust="spacingAndGlyphs" fill="#000">vw_shipperconf_all</text>
<text x="826.5" y="719" font-size="14" text-anchor="end" fill="#000">[view]</text>
<g fill="#000"><rect x="641" y="744" width="1" height="1"/><rect x="645" y="744" width="1" height="1"/><rect x="649" y="744" width="1" height="1"/></g>
<rect x="609" y="781" width="251" height="30" fill="#f4f4f4"/>
<rect x="609.75" y="781.75" width="249.5" height="52.5" fill="none" stroke="#000" stroke-width="1.5"/>
<rect x="609" y="810" width="251" height="2"/>
<text x="617.1" y="798.5" font-size="14.7" font-weight="bold" textLength="187.43" lengthAdjust="spacingAndGlyphs" fill="#000">vw_shipperconf_extended</text>
<text x="851.5" y="800" font-size="14" text-anchor="end" fill="#000">[view]</text>
<g fill="#000"><rect x="615" y="825" width="1" height="1"/><rect x="619" y="825" width="1" height="1"/><rect x="623" y="825" width="1" height="1"/></g>
<rect x="641" y="862" width="188" height="30" fill="#f4f4f4"/>
<rect x="641.75" y="862.75" width="186.5" height="52.5" fill="none" stroke="#000" stroke-width="1.5"/>
<rect x="641" y="891" width="188" height="2"/>
<text x="647.59" y="879.5" font-size="14.7" font-weight="bold" textLength="125.89" lengthAdjust="spacingAndGlyphs" fill="#000">mvw_shipperconf</text>
<text x="820.5" y="881" font-size="14" text-anchor="end" fill="#000">[view]</text>
<g fill="#000"><rect x="647" y="906" width="1" height="1"/><rect x="651" y="906" width="1" height="1"/><rect x="655" y="906" width="1" height="1"/></g>
<rect x="621" y="944" width="229" height="30" fill="#f4f4f4"/>
<rect x="621.75" y="944.75" width="227.5" height="76.5" fill="none" stroke="#000" stroke-width="1.5"/>
<rect x="621" y="973" width="229" height="2"/>
<rect x="621" y="997" width="229" height="2"/>
<rect x="731" y="998" width="2" height="24"/>
<rect x="790" y="998" width="2" height="24"/>
<text x="628.2" y="961.5" font-size="14.7" font-weight="bold" textLength="161.88" lengthAdjust="spacingAndGlyphs" fill="#000">shipperconf_unitgroup</text>
<text x="841.5" y="963" font-size="14" text-anchor="end" fill="#000">[table]</text>
<g fill="#000"><rect x="627" y="988" width="1" height="1"/><rect x="631" y="988" width="1" height="1"/><rect x="635" y="988" width="1" height="1"/></g>
<text x="626" y="1014" font-size="14.3" fill="#000">&lt; 2</text>
<rect x="619" y="1317" width="231" height="30" fill="#f4f4f4"/>
<rect x="619.75" y="1317.75" width="229.5" height="76.5" fill="none" stroke="#000" stroke-width="1.5"/>
<rect x="619" y="1346" width="231" height="2"/>
<rect x="619" y="1370" width="231" height="2"/>
<rect x="731" y="1371" width="2" height="24"/>
<rect x="790" y="1371" width="2" height="24"/>
<text x="627.3" y="1334.5" font-size="14.7" font-weight="bold" textLength="160.11" lengthAdjust="spacingAndGlyphs" fill="#000">shipperconf_command</text>
<text x="841.5" y="1336" font-size="14" text-anchor="end" fill="#000">[table]</text>
<g fill="#000"><rect x="625" y="1361" width="1" height="1"/><rect x="629" y="1361" width="1" height="1"/><rect x="633" y="1361" width="1" height="1"/></g>
<text x="624" y="1387" font-size="14.3" fill="#000">&lt; 2</text>
<rect x="629" y="1422" width="212" height="30" fill="#f4f4f4"/>
<rect x="629.75" y="1422.75" width="210.5" height="76.5" fill="none" stroke="#000" stroke-width="1.5"/>
<rect x="629" y="1451" width="212" height="2"/>
<rect x="629" y="1475" width="212" height="2"/>
<rect x="731" y="1476" width="2" height="24"/>
<rect x="784" y="1476" width="2" height="24"/>
<text x="636.6" y="1439.5" font-size="14.7" font-weight="bold" textLength="143.79" lengthAdjust="spacingAndGlyphs" fill="#000">shipperconf_macros</text>
<text x="832.5" y="1441" font-size="14" text-anchor="end" fill="#000">[table]</text>
<g fill="#000"><rect x="635" y="1466" width="1" height="1"/><rect x="639" y="1466" width="1" height="1"/><rect x="643" y="1466" width="1" height="1"/></g>
<text x="634" y="1492" font-size="14.3" fill="#000">&lt; 2</text>
<rect x="188" y="801" width="96" height="30" fill="#f4f4f4"/>
<rect x="188.75" y="801.75" width="94.5" height="76.5" fill="none" stroke="#000" stroke-width="1.5"/>
<rect x="188" y="830" width="96" height="2"/>
<rect x="188" y="854" width="96" height="2"/>
<rect x="222" y="855" width="2" height="24"/>
<rect x="242" y="855" width="2" height="24"/>
<text x="193.5" y="818.5" font-size="14.7" font-weight="bold" textLength="38.09" lengthAdjust="spacingAndGlyphs" fill="#000">client</text>
<text x="275.5" y="820" font-size="14" text-anchor="end" fill="#000">[table]</text>
<g fill="#000"><rect x="194" y="845" width="1" height="1"/><rect x="198" y="845" width="1" height="1"/><rect x="202" y="845" width="1" height="1"/></g>
<text x="193" y="871" font-size="14.3" fill="#000">&lt; 5</text>
<text x="278" y="871" font-size="14.3" text-anchor="end" fill="#000">27 &gt;</text>
<rect x="15" y="765" width="108" height="30" fill="#f4f4f4"/>
<rect x="15.75" y="765.75" width="106.5" height="76.5" fill="none" stroke="#000" stroke-width="1.5"/>
<rect x="15" y="794" width="108" height="2"/>
<rect x="15" y="818" width="108" height="2"/>
<rect x="50" y="819" width="2" height="24"/>
<rect x="75" y="819" width="2" height="24"/>
<text x="21.8" y="782.5" font-size="14.7" font-weight="bold" textLength="49.11" lengthAdjust="spacingAndGlyphs" fill="#000">branch</text>
<text x="114.5" y="784" font-size="14" text-anchor="end" fill="#000">[table]</text>
<g fill="#000"><rect x="21" y="809" width="1" height="1"/><rect x="25" y="809" width="1" height="1"/><rect x="29" y="809" width="1" height="1"/></g>
<text x="117" y="835" font-size="14.3" text-anchor="end" fill="#000">14 &gt;</text>
<rect x="348" y="616" width="184" height="29" fill="#f4f4f4"/>
<rect x="348.75" y="616.75" width="182.5" height="164.5" fill="none" stroke="#000" stroke-width="1.5"/>
<rect x="348" y="644" width="184" height="2"/>
<text x="354.6" y="632.5" font-size="14.7" font-weight="bold" textLength="68.78" lengthAdjust="spacingAndGlyphs" fill="#000">unitgroup</text>
<text x="523.5" y="634.5" font-size="14" text-anchor="end" fill="#000">[table]</text>
<rect x="348" y="674" width="184" height="2"/>
<text x="375" y="664" font-size="14.3" fill="#000">idunitgroup</text>
<g fill="#d8d800"><circle cx="362.5" cy="655.5" r="3.2"/><rect x="361.4" y="656.5" width="2.2" height="11.5"/><rect x="363.5" y="662.0" width="1.2" height="1"/><rect x="363.5" y="664.5" width="1.2" height="1"/></g><circle cx="362.5" cy="654.9" r="0.9" fill="#fff"/>
<rect x="348" y="703" width="184" height="2"/>
<text x="375" y="694" font-size="14.3" fill="#000">idclient</text>
<g fill="#c8c8c8"><circle cx="362.5" cy="685.5" r="3.2"/><rect x="361.4" y="686.5" width="2.2" height="11.5"/><rect x="363.5" y="692.0" width="1.2" height="1"/><rect x="363.5" y="694.5" width="1.2" height="1"/></g><circle cx="362.5" cy="684.9" r="0.9" fill="#fff"/>
<rect x="348" y="733" width="184" height="2"/>
<text x="375" y="723" font-size="14.3" fill="#000">idbranch</text>
<g fill="#c8c8c8"><circle cx="362.5" cy="714.5" r="3.2"/><rect x="361.4" y="715.5" width="2.2" height="11.5"/><rect x="363.5" y="721.0" width="1.2" height="1"/><rect x="363.5" y="723.5" width="1.2" height="1"/></g><circle cx="362.5" cy="713.9" r="0.9" fill="#fff"/>
<rect x="348" y="756" width="184" height="2"/>
<g fill="#000"><rect x="354" y="748" width="1" height="1"/><rect x="358" y="748" width="1" height="1"/><rect x="362" y="748" width="1" height="1"/></g>
<rect x="426" y="757" width="2" height="25"/>
<rect x="468" y="757" width="2" height="25"/>
<text x="353" y="773" font-size="14.3" fill="#000">&lt; 2</text>
<text x="526" y="773" font-size="14.3" text-anchor="end" fill="#000">13 &gt;</text>
<rect x="348" y="809" width="184" height="30" fill="#f4f4f4"/>
<rect x="348.75" y="809.75" width="182.5" height="194.5" fill="none" stroke="#000" stroke-width="1.5"/>
<rect x="348" y="838" width="184" height="2"/>
<text x="355.09" y="825.5" font-size="14.7" font-weight="bold" textLength="85.03" lengthAdjust="spacingAndGlyphs" fill="#000">shipperconf</text>
<text x="523.5" y="827.5" font-size="14" text-anchor="end" fill="#000">[table]</text>
<rect x="348" y="867" width="184" height="2"/>
<text x="375" y="858" font-size="14.3" fill="#000">idshipperconf</text>
<g fill="#d8d800"><circle cx="362.5" cy="849.5" r="3.2"/><rect x="361.4" y="850.5" width="2.2" height="11.5"/><rect x="363.5" y="856.0" width="1.2" height="1"/><rect x="363.5" y="858.5" width="1.2" height="1"/></g><circle cx="362.5" cy="848.9" r="0.9" fill="#fff"/>
<rect x="348" y="896" width="184" height="2"/>
<text x="375" y="887" font-size="14.3" fill="#000">idclientowner</text>
<g fill="#c8c8c8"><circle cx="362.5" cy="878.5" r="3.2"/><rect x="361.4" y="879.5" width="2.2" height="11.5"/><rect x="363.5" y="885.0" width="1.2" height="1"/><rect x="363.5" y="887.5" width="1.2" height="1"/></g><circle cx="362.5" cy="877.9" r="0.9" fill="#fff"/>
<rect x="348" y="926" width="184" height="2"/>
<text x="375" y="916" font-size="14.3" fill="#000">idclientshipper</text>
<g fill="#c8c8c8"><circle cx="362.5" cy="907.5" r="3.2"/><rect x="361.4" y="908.5" width="2.2" height="11.5"/><rect x="363.5" y="914.0" width="1.2" height="1"/><rect x="363.5" y="916.5" width="1.2" height="1"/></g><circle cx="362.5" cy="906.9" r="0.9" fill="#fff"/>
<rect x="348" y="955" width="184" height="2"/>
<text x="375" y="946" font-size="14.3" fill="#000">idbranch</text>
<g fill="#c8c8c8"><circle cx="362.5" cy="937.5" r="3.2"/><rect x="361.4" y="938.5" width="2.2" height="11.5"/><rect x="363.5" y="944.0" width="1.2" height="1"/><rect x="363.5" y="946.5" width="1.2" height="1"/></g><circle cx="362.5" cy="936.9" r="0.9" fill="#fff"/>
<rect x="348" y="979" width="184" height="2"/>
<g fill="#000"><rect x="354" y="970" width="1" height="1"/><rect x="358" y="970" width="1" height="1"/><rect x="362" y="970" width="1" height="1"/></g>
<rect x="430" y="980" width="2" height="25"/>
<rect x="474" y="980" width="2" height="25"/>
<text x="353" y="996" font-size="14.3" fill="#000">&lt; 3</text>
<text x="526" y="996" font-size="14.3" text-anchor="end" fill="#000">8 &gt;</text>
<rect x="604" y="1050" width="262" height="31" fill="#f4f4f4"/>
<rect x="605.5" y="1051.5" width="259" height="236" fill="none" stroke="#000" stroke-width="3"/>
<rect x="604" y="1080" width="262" height="2"/>
<rect x="604" y="1109" width="262" height="2"/>
<rect x="604" y="1139" width="262" height="2"/>
<rect x="604" y="1168" width="262" height="2"/>
<rect x="604" y="1198" width="262" height="2"/>
<rect x="604" y="1227" width="262" height="2"/>
<rect x="604" y="1256" width="262" height="2"/>
<rect x="772" y="1081" width="2" height="208"/>
<text x="613.7" y="1070" font-size="14.7" font-weight="bold" textLength="111.71" lengthAdjust="spacingAndGlyphs" fill="#000">vw_shipperconf</text>
<text x="856" y="1072" font-size="14" text-anchor="end" fill="#000">[view]</text>
<text x="633" y="1100" font-size="14.3" fill="#000">id</text>
<text x="777" y="1100" font-size="14.3" fill="#000">int8[19]</text>
<text x="633" y="1129" font-size="14.3" fill="#000">idshipperconf</text>
<text x="777" y="1129" font-size="14.3" fill="#000">int4[10]</text>
<g fill="#c8c8c8"><circle cx="620" cy="1120.5" r="3.2"/><rect x="618.9" y="1121.5" width="2.2" height="11.5"/><rect x="621" y="1127.0" width="1.2" height="1"/><rect x="621" y="1129.5" width="1.2" height="1"/></g><circle cx="620" cy="1119.9" r="0.9" fill="#fff"/>
<text x="633" y="1159" font-size="14.3" fill="#000">idclientshipper</text>
<text x="777" y="1159" font-size="14.3" fill="#000">int4[10]</text>
<text x="633" y="1188" font-size="14.3" fill="#000">idclientowner</text>
<text x="777" y="1188" font-size="14.3" fill="#000">int4[10]</text>
<text x="633" y="1218" font-size="14.3" fill="#000">idunitgroup</text>
<text x="777" y="1218" font-size="14.3" fill="#000">int4[10]</text>
<g fill="#c8c8c8"><circle cx="620" cy="1209.5" r="3.2"/><rect x="618.9" y="1210.5" width="2.2" height="11.5"/><rect x="621" y="1216.0" width="1.2" height="1"/><rect x="621" y="1218.5" width="1.2" height="1"/></g><circle cx="620" cy="1208.9" r="0.9" fill="#fff"/>
<text x="633" y="1247" font-size="14.3" fill="#000">idunit</text>
<text x="777" y="1247" font-size="14.3" fill="#000">int4[10]</text>
<text x="633" y="1276" font-size="14.3" fill="#000">clientowner_name</text>
<text x="777" y="1276" font-size="14.3" fill="#000">varchar[256]</text>
<text x="16" y="1539.3" font-size="14.6" fill="#000">Generated by SchemaSpy</text>
</svg></body></html>
